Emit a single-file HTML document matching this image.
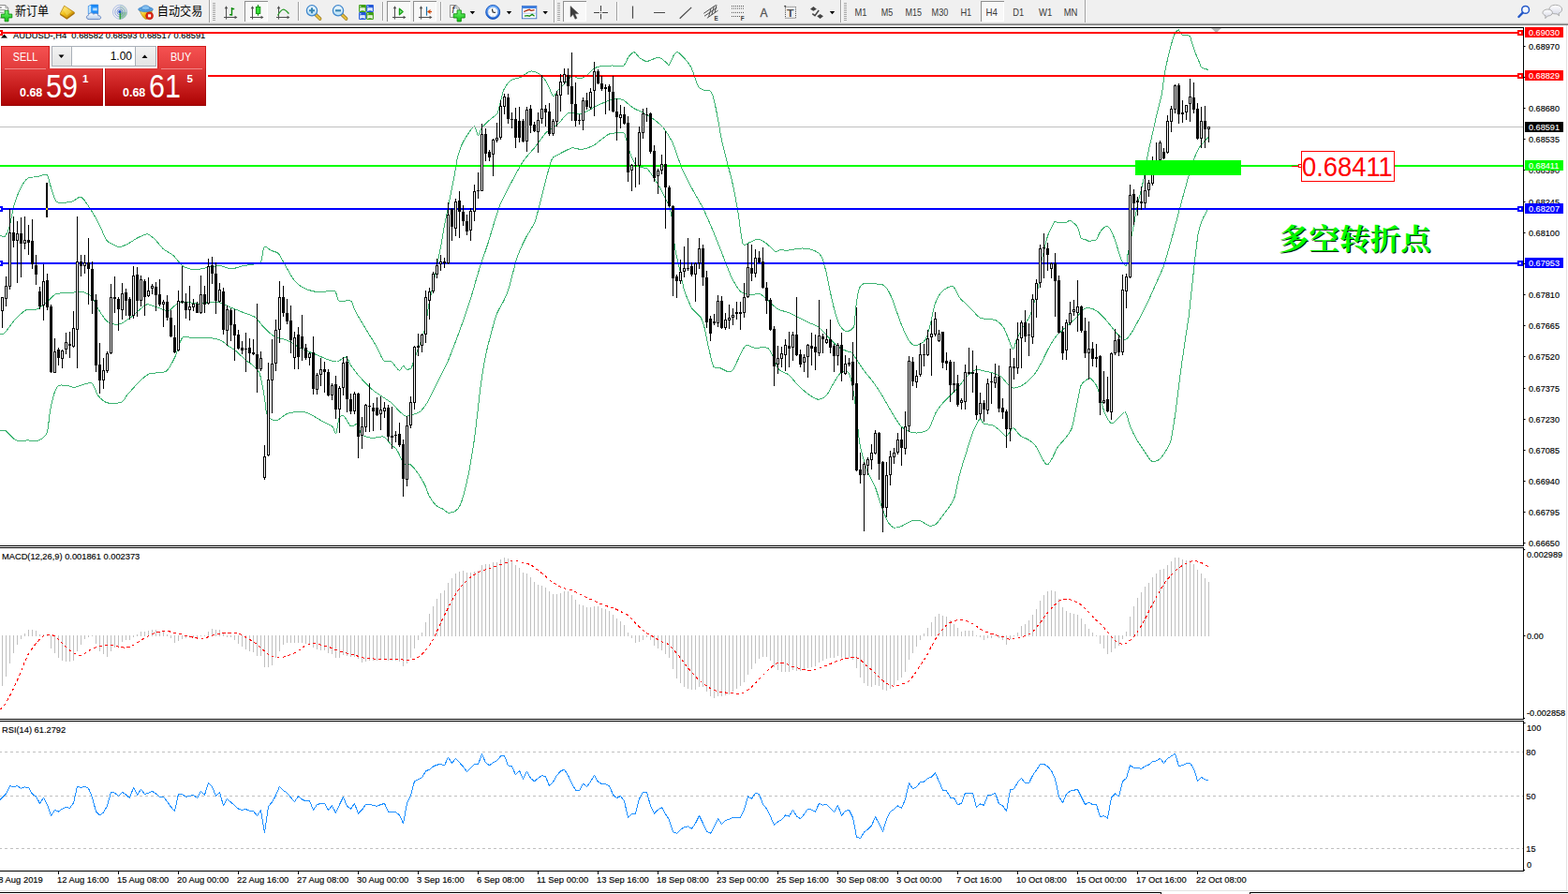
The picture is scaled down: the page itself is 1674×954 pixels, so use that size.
<!DOCTYPE html>
<html><head><meta charset="utf-8"><title>AUDUSD-,H4</title>
<style>
html,body{margin:0;padding:0;background:#fff}
body{width:1674px;height:954px;overflow:hidden;position:relative;font-family:"Liberation Sans",sans-serif}
svg text{font-family:"Liberation Sans",sans-serif}
#chart{position:absolute;left:0;top:0}
#tb{position:absolute;left:0;top:0;width:1674px;height:27px;background:#f0f0f0;overflow:hidden}
#tb .sh1{position:absolute;left:0;top:24px;width:100%;height:1px;background:#e2e2e2}
#tb .sh2{position:absolute;left:0;top:25px;width:100%;height:1px;background:#a9a9a9}
#tb .sh3{position:absolute;left:0;top:26px;width:100%;height:1px;background:#7b7b7b}
#tbi{position:absolute;left:0;top:0}
.tp{position:absolute;color:#fff;font-family:"Liberation Sans",sans-serif}
</style></head><body>
<svg id="chart" width="1674" height="954" viewBox="0 0 1674 954">
<g shape-rendering="crispEdges">
<rect x="0" y="29" width="1627" height="1" fill="#000"/>
<rect x="1626" y="29" width="1" height="554" fill="#000"/><rect x="1626" y="584" width="1" height="184" fill="#000"/><rect x="1626" y="769" width="1" height="161" fill="#000"/>
<rect x="0" y="582" width="1627" height="1" fill="#000"/>
<rect x="0" y="584" width="1627" height="1" fill="#000"/>
<rect x="0" y="767" width="1627" height="1" fill="#000"/>
<rect x="0" y="769" width="1627" height="1" fill="#000"/>
<rect x="0" y="929" width="1627" height="1" fill="#000"/>
<rect x="1672" y="27" width="1" height="924" fill="#e3e3e3"/>
<rect x="0" y="950" width="1674" height="1" fill="#e3e3e3"/>
<rect x="0" y="952" width="1240" height="1" fill="#000"/><rect x="1334" y="952" width="340" height="1" fill="#000"/>
<rect x="1239" y="952" width="1" height="2" fill="#000"/><rect x="1334" y="952" width="1" height="2" fill="#000"/>
</g>
<path d="M1293 30H1304L1298.5 35Z" fill="#b4b4b4"/>
<path d="M1 40.5L4.5 36.5L8 40.5Z" fill="#000"/>
<text transform="translate(14 41.2) scale(0.945 1)" font-size="9.9" fill="#000" stroke="#000" stroke-width=".15">AUDUSD-,H4&#160; 0.68582 0.68593 0.68517 0.68591</text>
<clipPath id="cm"><rect x="0" y="30" width="1626" height="552"/></clipPath>
<g clip-path="url(#cm)" fill="none" stroke="#3cb371" stroke-width="1" stroke-linejoin="round" shape-rendering="crispEdges">
<path d="M0 251.1C0.6 251.3 3.7 253.5 5 252.4C6.2 251.3 8.7 246.6 10 242.4C11.2 238.2 13.4 224 15 218.7C16.5 213.4 20.6 203.6 22.5 200C24.3 196.4 27.8 191.4 30 190C32.1 188.6 37.5 189.2 40 188.7C42.4 188.3 48.2 185.1 49.9 186.2C51.7 187.3 52.4 193.9 53.7 197.5C54.9 201.1 58.2 212.6 59.9 214.9C61.6 217.3 65.2 216.2 67.4 216.2C69.6 216.2 75.1 215.7 77.4 214.9C79.7 214.2 84.1 209.5 86.1 210C88.2 210.4 91.3 215.3 93.6 218.7C96 222.1 102.4 232.7 104.9 237.4C107.4 242.1 111.7 253.3 113.6 256.1C115.5 259 118.1 259.5 119.9 260.4C121.6 261.3 125.3 263.6 127.3 263.6C129.4 263.6 133.6 261.6 136.1 260.4C138.6 259.1 144.7 255 147.3 253.6C150 252.3 155.1 249.7 157.3 249.9C159.5 250.1 162.6 252.9 164.8 254.9C167 256.9 172.3 263.9 174.8 266.1C177.3 268.3 182.3 270.2 184.8 272.4C187.3 274.6 192.3 281.7 194.8 283.6C197.3 285.5 202.6 286.9 204.7 287.4C206.9 287.8 210 287.6 212.2 287.4C214.4 287.1 219.4 285.8 222.2 285.4C225 284.9 231.6 283.4 234.7 283.6C237.8 283.8 244.1 286.9 247.2 286.9C250.3 286.9 256.6 284.2 259.7 283.6C262.8 283 269.8 282.3 272.2 281.9C274.5 281.4 277.2 282.1 278.4 279.9C279.7 277.6 280.7 265.2 282.1 263.6C283.6 262.1 287.8 266.5 289.6 267.4C291.5 268.2 295.4 268.7 297.1 270.4C298.8 272.1 301.2 277.4 303.4 281.1C305.6 284.8 311.6 296.4 314.6 299.8C317.6 303.3 323.7 307.1 327.1 308.6C330.5 310.1 338.3 311.6 342.1 311.8C345.8 312 354.6 309.2 357.1 310.3C359.6 311.5 359.9 319.7 362 321.1C364.2 322.4 372.3 319.7 374.5 321.1C376.7 322.5 377.3 328.2 379.5 332.3C381.7 336.4 389.2 348.8 392 353.5C394.8 358.2 399.8 365.8 402 369.8C404.2 373.7 407.5 382.7 409.5 384.7C411.5 386.8 416.4 385.2 418 386C419.6 386.8 421.2 390 422.2 391.2C423.3 392.3 425.5 395.5 426.5 395.4C427.5 395.3 429.5 390.6 430.5 390.4C431.4 390.3 432.9 393.8 434 394.2C435 394.5 438.1 393.8 439 392.9C439.8 392.1 439.9 390.3 441 387.4C442 384.5 445.7 374.5 447.2 369.9C448.8 365.4 452 357.1 453.5 351.2C454.9 345.3 456.4 332.9 458.4 322.5C460.5 312.1 467.7 278.3 469.7 268C471.7 257.6 473.4 246.4 474.7 239.7C475.9 233.1 478.4 221 479.7 214.8C480.9 208.5 483.6 195.6 484.7 189.8C485.8 184 487.3 173.1 488.4 168.6C489.5 164.1 491.8 157 493.4 153.6C495 150.2 499.3 143.5 500.9 141.1C502.5 138.8 505.2 134.5 506.4 134.9C507.6 135.3 509.4 144.2 510.4 144.4C511.4 144.5 513 138.2 514.6 136.1C516.2 134 521.3 129.3 523.4 127.4C525.4 125.5 529.5 123.6 530.9 121.1C532.3 118.6 533.7 110.7 534.6 107.4C535.5 104.1 536.9 97.7 538.3 94.9C539.8 92.2 543.7 87 545.8 85.4C548 83.9 553.3 83.6 555.8 82.4C558.3 81.3 563.6 76.8 565.8 76.2C568 75.6 571.4 76.5 573.3 77.4C575.2 78.4 579.2 81.8 580.8 83.7C582.4 85.6 584.5 90 585.8 92.4C587 94.8 589.5 102.4 590.8 102.9C592 103.4 594.2 97.9 595.8 96.2C597.3 94.4 601.4 90.5 603.3 88.7C605.1 86.8 608.9 81.8 610.8 81.2C612.6 80.6 616.4 83.7 618.2 83.7C620.1 83.7 623.9 82.4 625.7 81.2C627.6 79.9 631.4 75 633.2 73.7C635.1 72.4 638.2 71.2 640.7 70.7C643.2 70.2 650.1 70 653.2 70C656.3 69.9 663.5 71 665.7 70C667.9 68.9 669.3 63 670.7 61.2C672.1 59.4 675.4 55.6 676.9 55.7C678.5 55.8 681.4 60.7 683.2 62C684.9 63.2 688.2 65.5 690.7 65.5C693.2 65.4 700.6 61.1 703.1 61.2C705.6 61.3 709.2 65.2 710.6 66.2C712 67.2 713.3 70.1 714.4 69.2C715.5 68.3 718.3 60.4 719.4 58.7C720.5 57 721.7 55.3 723.1 55.7C724.5 56.1 728.7 59.9 730.6 62C732.5 64.1 736.2 68.6 738.1 72.4C740 76.3 743.9 89.5 745.6 92.4C747.3 95.4 750.3 95.6 751.8 96.2C753.4 96.7 756.8 95.8 758.1 96.9C759.3 98 760.9 101.7 761.8 104.9C762.8 108.1 764.5 116.8 765.6 122.4C766.7 128 769.2 143.3 770.6 149.9C772 156.4 775.2 168.6 776.8 174.8C778.4 181.1 781.6 193.2 783 199.8C784.4 206.3 786.8 219.8 788 227.3C789.3 234.7 791.5 255.8 793 259.7C794.6 263.6 798.5 259 800.5 258.5C802.5 257.9 807.1 255.1 809.3 255.2C811.4 255.4 815.7 258.1 818 259.7C820.3 261.4 826.2 267.5 828 268.5C829.7 269.4 830.2 267.2 832 267C833.8 266.8 838.9 267.2 842 267C845.1 266.7 853.5 264.9 857 265C860.4 265 867 266.4 869.5 267.5C872 268.6 875.4 270.9 876.9 273.7C878.5 276.5 880.5 284.2 881.9 289.9C883.3 295.7 886.6 313.3 888.2 319.9C889.7 326.5 892.9 338.3 894.4 342.4C896 346.4 899.1 351 900.7 352.4C902.2 353.7 905.5 353.5 906.9 352.9C908.3 352.2 911 351.2 911.9 347.4C912.8 343.6 913.6 327.5 914.4 322.4C915.2 317.2 917 308.7 918.1 306.2C919.2 303.7 921.1 302.8 923.1 302.4C925.2 302 932 302.8 934.4 302.9C936.7 303.1 940.3 303 941.9 303.7C943.4 304.3 945.6 306.2 946.9 307.9C948.1 309.6 950.6 314.5 951.9 317.4C953.1 320.3 955.6 327.7 956.8 331.1C958.1 334.6 960.4 341.3 961.8 344.9C963.2 348.4 966.5 356.5 968.1 359.4C969.6 362.2 972.6 366.8 974.3 367.8C976 368.8 980.1 368 981.8 367.3C983.5 366.7 986.7 364.8 988.1 362.3C989.5 359.9 991.8 352 993 347.4C994.3 342.7 996.6 329.3 998 324.9C999.4 320.5 1002.6 314.7 1004.3 312.4C1006 310.2 1010.1 307.7 1011.8 306.9C1013.5 306.1 1016.5 304.9 1018 306.2C1019.6 307.5 1022.5 315.1 1024.3 317.4C1026 319.7 1029.9 323 1031.8 324.9C1033.6 326.8 1037.4 330.6 1039.2 332.4C1041.1 334.2 1044.5 338.4 1046.7 339.4C1048.9 340.4 1054.5 340 1056.7 340.4C1058.9 340.7 1062.3 341.2 1064.2 342.4C1066.1 343.6 1070 347.1 1071.7 349.9C1073.4 352.7 1076.7 362 1077.9 364.8C1079.2 367.7 1080.8 373.1 1081.7 372.8C1082.6 372.5 1084.2 365.2 1085.4 362.3C1086.7 359.5 1089.8 353.3 1091.7 349.9C1093.5 346.4 1098.2 340.8 1100.4 334.9C1102.6 329 1107.7 309.3 1109.2 302.4C1110.6 295.5 1111.1 284.1 1111.8 279.5C1112.5 274.9 1114.3 268.8 1115.1 265.3C1115.9 261.9 1117.5 254.7 1118.5 251.9C1119.5 249.1 1121.8 244.6 1122.7 242.7C1123.6 240.8 1125.2 237.2 1126 236.6C1126.8 235.9 1127.9 237.4 1129.4 237.5C1130.9 237.6 1136.6 237.8 1138.2 237.5C1139.8 237.2 1141.1 235.1 1142 235.1C1142.9 235.1 1144.2 236.3 1145.3 237.2C1146.3 238.1 1149.3 240.1 1150.4 242.2C1151.5 244.3 1153.1 252.3 1154.1 254C1155.1 255.7 1157.6 255.2 1158.7 255.7C1159.8 256.1 1162 257.5 1162.9 257.6C1163.9 257.7 1165.3 256.7 1166.3 256.5C1167.2 256.3 1169.6 256.6 1170.5 255.7C1171.4 254.8 1172.9 250.4 1173.8 248.9C1174.7 247.4 1177 244.4 1178 243.5C1179 242.6 1181.2 241 1182.2 241.4C1183.2 241.8 1185.4 244.5 1186.4 246.4C1187.5 248.3 1189.5 253.9 1190.6 256.9C1191.6 259.9 1193.9 267.5 1194.8 270.3C1195.7 273.1 1197.2 277.8 1198.1 279.5C1199 281.2 1201.6 284.4 1202.3 283.7C1203 283 1203.2 276.1 1203.6 273.7C1204 271.3 1204.6 269 1205.5 264.8C1206.3 260.6 1209.4 245.4 1210.4 239.8C1211.5 234.2 1213.3 224.2 1214.2 219.9C1215.1 215.5 1217 208.9 1217.9 204.9C1218.9 200.8 1220.7 192.4 1221.7 187.4C1222.6 182.4 1224.3 170.5 1225.4 164.9C1226.5 159.3 1229.2 148.1 1230.4 142.4C1231.7 136.8 1234.2 125.3 1235.4 120C1236.7 114.7 1239.4 105.3 1240.4 100C1241.4 94.7 1242.4 83.4 1243.5 77.8C1244.5 72.2 1247.2 60.2 1248.5 55.2C1249.7 50.1 1252.6 40.2 1253.5 37.5C1254.5 34.8 1255.4 34.2 1256 33.5C1256.6 32.8 1257.6 31.5 1258.3 31.9C1259 32.3 1260.6 36.2 1261.7 36.9C1262.8 37.6 1266.2 37 1267.3 37.3C1268.4 37.6 1269.9 38.1 1270.5 39.1C1271.1 40 1271.7 42.9 1272.4 45.1C1273.1 47.3 1275.2 53.9 1276.1 56.4C1277.1 58.9 1279.1 63.3 1279.9 65.2C1280.7 67.1 1281.7 70.5 1282.4 71.5C1283.2 72.5 1285.3 73 1286.2 73.4C1287.1 73.7 1289.3 74.2 1289.7 74.3"/>
<path d="M0 356C0.6 355.9 3.1 357 5 355.3C6.9 353.6 12.2 345.3 15 342.3C17.8 339.3 24.3 332.6 27.5 331C30.6 329.5 37.1 330.9 40 329.8C42.8 328.7 47.4 324.3 49.9 322.3C52.4 320.3 56.8 314.8 59.9 313.6C63 312.4 71.6 313.1 74.9 312.8C78.2 312.5 83.3 310.7 86.1 311.1C89 311.5 95 313.7 97.4 316.1C99.7 318.4 102.7 326.4 104.9 329.8C107.1 333.2 112 341.5 114.9 343.5C117.7 345.6 124.2 346.7 127.3 346C130.5 345.4 137 340.6 139.8 338.5C142.6 336.5 147.6 331.5 149.8 329.8C152 328.1 154.8 325 157.3 324.8C159.8 324.7 167 327.7 169.8 328.6C172.6 329.4 177.3 332.4 179.8 331.8C182.3 331.2 187.3 324.7 189.8 323.6C192.3 322.4 196.9 322.2 199.8 322.3C202.6 322.4 209.1 324.3 212.2 324.3C215.4 324.3 221.9 322.5 224.7 322.3C227.5 322.1 232.2 322.2 234.7 322.8C237.2 323.4 241.6 326 244.7 327.3C247.8 328.6 256.2 332.1 259.7 333.5C263.1 335 269.4 336.5 272.2 338.5C275 340.6 279.7 347.3 282.1 349.8C284.6 352.3 289 356.8 292.1 358.5C295.3 360.2 303.4 361.8 307.1 363.5C310.9 365.2 318.7 370.5 322.1 372.2C325.5 374 331.1 375.8 334.6 377.2C338 378.6 346.4 382.4 349.6 383.5C352.7 384.6 357.1 386.3 359.6 386C362 385.7 367.7 380.5 369.5 381C371.4 381.5 373 387.4 374.5 389.7C376.1 392.1 380.1 397.4 382 399.7C383.9 402 387.3 405.7 389.5 408C391.7 410.2 395.9 414.7 399.5 417.5C403.1 420.2 414.7 427.3 418 429.9C421.3 432.6 424 436.8 426 438.6C427.9 440.4 431.6 443.6 433.5 444.1C435.4 444.6 439.1 442.9 441 442.3C442.8 441.8 446.6 440.9 448.5 439.4C450.3 437.8 453.8 433.5 456 429.9C458.1 426.2 463.1 415.5 465.9 409.9C468.7 404.3 475.3 392.1 478.4 384.9C481.5 377.7 487.9 360.6 490.9 352.5C493.9 344.3 499.6 327.8 502.1 320C504.6 312.2 508.5 297.3 510.9 289.8C513.2 282.2 518.1 268.5 520.9 259.8C523.7 251 530.2 228 533.4 219.8C536.5 211.7 542.7 200.8 545.8 194.9C549 188.9 555.2 177.1 558.3 172.4C561.4 167.7 567.7 161.3 570.8 157.4C573.9 153.5 580.2 144.3 583.3 141.2C586.4 138.1 593 134.9 595.8 132.4C598.6 130 603.3 122.6 605.8 121.2C608.3 119.8 613.6 121.3 615.8 121.2C617.9 121.1 620.7 121.4 623.2 120.5C625.7 119.5 632.3 115.4 635.7 113.7C639.2 112 647.9 108 650.7 107C653.5 105.9 656.3 105.5 658.2 105.5C660.1 105.5 663.5 105.8 665.7 107C667.9 108.2 673.2 113.3 675.7 115C678.2 116.6 682.9 118.4 685.7 120C688.5 121.5 695.3 125.4 698.1 127.5C701 129.5 705.6 133.1 708.1 136.2C710.6 139.3 715.6 147 718.1 152.4C720.6 157.9 725.6 174 728.1 179.9C730.6 185.8 735.3 194.6 738.1 199.9C740.9 205.2 747.8 216.7 750.6 222.3C753.4 228 758.1 238.9 760.6 244.8C763.1 250.7 768.1 263.5 770.6 269.8C773.1 276 778 289.6 780.5 294.7C783 299.9 788 308.5 790.5 311C793 313.5 798 314.4 800.5 314.7C803 315 808.3 313 810.5 313.5C812.7 313.9 816.1 316.9 818 318.5C819.9 320 823.7 324.4 825.5 326C827.2 327.5 829.9 329.7 832 330.6C834.1 331.6 839.5 332.6 842 333.6C844.5 334.6 849.5 337.4 852 338.6C854.5 339.9 859.2 342.3 862 343.6C864.8 345 871.6 347.3 874.4 349.4C877.3 351.4 881.9 357.3 884.4 359.9C886.9 362.4 891.9 368 894.4 369.8C896.9 371.7 902.5 374.1 904.4 374.8C906.3 375.6 908.2 375 909.4 376.1C910.7 377.2 912.8 381.2 914.4 383.6C916 385.9 919.7 391.8 921.9 394.8C924.1 397.8 929.4 403.9 931.9 407.3C934.4 410.7 939.4 418.2 941.9 422.3C944.4 426.3 949.4 435.7 951.9 439.8C954.3 443.8 959.3 452.1 961.8 454.7C964.3 457.4 969.3 460.1 971.8 461C974.3 461.8 979.3 462.2 981.8 461.7C984.3 461.3 989.6 460 991.8 457.2C994 454.5 997.4 443.2 999.3 439.8C1001.2 436.3 1004.9 431.9 1006.8 429.8C1008.7 427.6 1012.4 424.1 1014.3 422.3C1016.1 420.4 1019.6 417.3 1021.8 414.8C1023.9 412.3 1029.3 404.8 1031.8 402.3C1034.2 399.8 1039.2 395.6 1041.7 394.8C1044.2 394 1049.2 395.6 1051.7 396.1C1054.2 396.5 1059.5 397.8 1061.7 398.6C1063.9 399.3 1067.3 400.7 1069.2 402.3C1071.1 403.9 1075.1 409.6 1076.7 411C1078.3 412.5 1080.1 413.9 1081.7 414C1083.2 414.2 1087.3 413.1 1089.2 412.3C1091.1 411.4 1094.8 408.9 1096.7 407.3C1098.5 405.7 1102.3 402.3 1104.2 399.8C1106 397.3 1109.8 390.7 1111.7 387.3C1113.5 383.9 1117.3 375.8 1119.1 372.3C1121 368.9 1124.8 362.3 1126.6 359.9C1128.5 357.4 1131.9 354.4 1134.1 352.4C1136.3 350.3 1141.9 345.6 1144.1 343.6C1146.3 341.6 1150 337.8 1151.6 336.1C1153.2 334.5 1155.2 331.3 1156.6 330.4C1158 329.5 1161 328.4 1162.8 328.6C1164.7 328.9 1169.2 330.7 1171.6 332.4C1173.9 334.1 1179.1 339.6 1181.6 342.4C1184.1 345.2 1189.2 352.4 1191.6 354.9C1193.9 357.4 1198.4 362 1200.3 362.3C1202.2 362.7 1204.5 360.2 1206.5 357.4C1208.6 354.5 1214 344.6 1216.5 339.9C1219 335.2 1224 325.2 1226.5 319.9C1229 314.6 1234.4 302.1 1236.5 297.4C1238.5 292.7 1240.9 288.5 1242.9 282.3C1245 276 1250.4 256.4 1252.9 247.3C1255.4 238.3 1260.4 218.9 1262.9 209.9C1265.4 200.8 1270.7 181.5 1272.9 174.9C1275.1 168.4 1278.2 161 1280.4 157.4C1282.5 153.8 1289.1 147.6 1290.3 146.2"/>
<path d="M0 459.4C0.8 459.5 4.7 459.1 6.2 459.9C7.8 460.7 10.9 464.8 12.5 466.1C14 467.5 16.5 469.9 18.7 470.4C20.9 470.9 27.3 469.9 30 469.9C32.6 469.9 37.5 471.3 40 470.4C42.4 469.5 48.2 466.5 49.9 462.4C51.7 458.3 52.6 443 53.7 437.4C54.8 431.8 57.4 420.7 58.7 417.5C59.9 414.2 62 411.9 63.7 411.2C65.4 410.5 70.4 411.5 72.4 411.7C74.4 412 76.8 413.6 79.9 413.2C83 412.8 94.3 407.6 97.4 408.7C100.5 409.9 102.7 419.8 104.9 422.4C107.1 425.1 111.7 429.1 114.9 429.9C118 430.8 127.2 430.3 129.8 429.2C132.5 428.1 133.6 424.1 136.1 421.2C138.6 418.3 146.8 409 149.8 406.2C152.8 403.4 156.4 400 159.8 398.7C163.2 397.5 173.8 398.6 177.3 396.2C180.7 393.9 185.1 384.5 187.3 380C189.5 375.5 192.3 362.6 194.8 360.3C197.3 357.9 204.1 361 207.2 361C210.4 361 216.3 360 219.7 360.3C223.2 360.5 231.6 361.6 234.7 362.8C237.8 363.9 242.5 368.3 244.7 369.8C246.9 371.2 250 372.9 252.2 374.7C254.4 376.6 260 382.4 262.2 384.2C264.4 386.1 267.8 387.9 269.7 389.7C271.5 391.5 275.6 394.6 277.2 398.7C278.7 402.8 281.2 417.1 282.1 422.4C283.1 427.8 283.7 438.1 284.6 441.2C285.6 444.3 288.1 446.6 289.6 447.4C291.2 448.3 294.9 448.7 297.1 447.9C299.3 447.1 304 442.3 307.1 441.2C310.2 440.1 319 439 322.1 439.2C325.2 439.3 329.3 441.1 332.1 442.4C334.9 443.8 341.8 448.4 344.6 449.9C347.4 451.5 352.8 453.3 354.6 454.9C356.3 456.5 357.9 463.5 358.8 462.4C359.7 461.3 361 448.5 362 446.2C363.1 443.8 365.5 442.6 367 443.7C368.6 444.8 372.7 453.8 374.5 454.9C376.4 456 380.6 451.3 382 452.4C383.4 453.5 383.9 461.8 385.8 463.6C387.6 465.5 394 467.1 397 467.4C400 467.7 406.9 465.2 409.5 466.1C412.1 467.1 416.2 473.2 418 474.9C419.7 476.6 422.2 477.9 423.5 479.8C424.8 481.7 427.5 487.9 428.5 489.8C429.4 491.7 429.7 494 431 494.8C432.2 495.6 436.6 494.8 438.5 496C440.3 497.3 444.1 502.1 446 504.8C447.8 507.4 451.9 514.1 453.5 517.3C455 520.4 456.9 526.9 458.4 529.7C460 532.5 464.1 538 465.9 539.7C467.8 541.4 471.9 542.5 473.4 543.5C475 544.4 476.9 547 478.4 547.2C480 547.5 484.4 546.4 485.9 545.5C487.5 544.5 489.7 542.3 490.9 539.7C492.2 537.1 494.7 529.4 495.9 524.7C497.1 520.1 499.6 508.8 500.9 502.3C502.1 495.7 504.8 479.8 505.9 472.3C507 464.8 508.7 450.1 509.6 442.3C510.6 434.5 512.3 417.7 513.4 409.9C514.5 402.1 516.8 387.4 518.4 379.9C519.9 372.4 524.3 355.7 525.9 350C527.4 344.2 529.3 337.5 530.9 333.7C532.4 330 536.8 323.3 538.3 320C539.9 316.7 541.6 312.9 543.3 307.2C545.1 301.6 549.9 281.3 552.1 274.8C554.3 268.2 558.5 259.5 560.8 254.8C563.2 250.1 568.8 242.3 570.8 237.3C572.8 232.3 575.5 220.8 577 214.8C578.6 208.9 581.9 195.2 583.3 189.9C584.7 184.6 587.3 175.1 588.3 172.4C589.2 169.7 589.2 169.2 590.8 167.9C592.3 166.7 598.3 163.7 600.8 162.4C603.3 161.2 608.3 158.3 610.8 157.9C613.3 157.5 617.9 159.7 620.7 159.4C623.6 159.1 630.7 156.6 633.2 155.4C635.7 154.2 638.5 151.5 640.7 149.9C642.9 148.4 647.6 144 650.7 142.9C653.8 141.9 663.5 141.1 665.7 141.7C667.9 142.2 667.2 144.5 668.2 147.4C669.1 150.3 671.9 161.5 673.2 164.9C674.4 168.3 676.9 173.2 678.2 174.9C679.4 176.6 681.6 178 683.2 178.6C684.7 179.3 688.8 178.5 690.7 179.9C692.5 181.3 696.3 187.1 698.1 189.9C700 192.7 703.8 198.9 705.6 202.4C707.5 205.8 711.7 213.9 713.1 217.3C714.5 220.8 715.9 223.9 716.9 229.8C717.8 235.8 719.5 257.6 720.6 264.8C721.7 272 724.4 281.6 725.6 287.3C726.9 292.9 729 304.6 730.6 309.7C732.2 314.8 736.8 325.3 738.1 328C739.3 330.6 739.3 329.9 740.6 331.2C741.8 332.6 746.7 336.5 748.1 338.7C749.5 340.9 750.7 344.5 751.8 348.7C752.9 352.9 755.6 367.1 756.8 372.4C758.1 377.7 760.4 388.7 761.8 391.2C763.2 393.7 766 391.7 768.1 392.4C770.1 393.1 776.2 396.7 778 396.9C779.9 397.1 780.9 397.1 783 393.7C785.2 390.2 792.7 372.2 795.5 369.4C798.3 366.6 802.5 371 805.5 371.2C808.5 371.4 816.9 370.2 819.2 371.2C821.6 372.1 822.8 376 824.2 378.7C825.6 381.3 829.3 390.2 830.5 392.4C831.7 394.6 832.5 395.2 834 396.2C835.4 397.1 839.7 398.1 842 399.9C844.2 401.8 849.5 408.7 852 411.2C854.5 413.7 859.3 418 862 419.9C864.6 421.8 870.7 425.8 873.2 426.2C875.7 426.5 879.9 424.4 881.9 422.4C884 420.4 887.7 412.7 889.4 409.9C891.1 407.1 894.1 401.7 895.7 399.9C897.2 398.2 900.5 396.2 901.9 396.2C903.3 396.2 905.7 396.7 906.9 399.9C908.2 403.2 910.8 415.5 911.9 422.4C913 429.3 914.9 448.3 915.6 454.9C916.4 461.4 917.4 470.5 918.1 474.8C918.9 479.2 920.8 486.1 921.9 489.8C923 493.6 925.3 501.1 926.9 504.8C928.4 508.6 932.5 515.1 934.4 519.8C936.2 524.5 940.1 537.6 941.9 542.3C943.6 546.9 946.5 554.7 948.1 557.2C949.7 559.8 952.6 562.4 954.3 563C956.1 563.5 960.1 562.3 961.8 561.7C963.6 561.2 966.4 559.3 968.1 558.5C969.8 557.7 973.7 555.6 975.6 555.2C977.4 554.9 981 555.3 983.1 556C985.1 556.7 989.8 560.6 991.8 561C993.8 561.4 997.4 560.6 999.3 559.2C1001.2 557.8 1004.9 552.2 1006.8 549.8C1008.7 547.3 1012.7 542.3 1014.3 539.8C1015.8 537.3 1018 533.8 1019.3 529.8C1020.5 525.7 1022.7 513.2 1024.3 507.3C1025.8 501.4 1029.9 488.3 1031.8 482.3C1033.6 476.4 1037.4 464.2 1039.2 459.9C1041.1 455.5 1044.8 448.3 1046.2 447.4C1047.6 446.4 1048.9 451.6 1050.5 452.4C1052.1 453.2 1057.2 452.8 1059.2 453.6C1061.2 454.4 1064.8 457.1 1066.7 458.6C1068.6 460.1 1072.3 465.6 1074.2 465.4C1076.1 465.1 1079.8 456.9 1081.7 456.9C1083.6 456.8 1087 463.2 1089.2 464.9C1091.4 466.5 1097 468.3 1099.2 469.9C1101.4 471.4 1104.9 474.8 1106.7 477.3C1108.4 479.8 1111.5 487.5 1112.9 489.8C1114.3 492.2 1116.6 496.1 1117.9 496.1C1119.1 496.1 1121.5 492.2 1122.9 489.8C1124.3 487.5 1127.4 480 1129.1 477.3C1130.8 474.7 1134.7 471.1 1136.6 468.6C1138.5 466.1 1142.5 461.6 1144.1 457.4C1145.7 453.2 1147.9 440.7 1149.1 434.9C1150.4 429.1 1152.8 414.8 1154.1 411.2C1155.3 407.6 1157.8 407.1 1159.1 406.2C1160.3 405.2 1162.5 402.7 1164.1 403.7C1165.6 404.6 1169.7 409.1 1171.6 413.7C1173.4 418.2 1177.2 435.1 1179.1 439.9C1180.9 444.7 1184.7 451.1 1186.6 451.9C1188.4 452.7 1192.2 447.6 1194 446.1C1195.9 444.6 1200 438.8 1201.5 439.9C1203.1 441 1205 451.1 1206.5 454.9C1208.1 458.6 1212.1 466.6 1214 469.9C1215.9 473.1 1219.6 478.3 1221.5 481.1C1223.4 483.8 1227.1 490.6 1229 491.8C1230.9 493.1 1234.6 492.3 1236.5 491.1C1238.4 489.9 1242.3 485 1244 482.3C1245.7 479.7 1248.6 475.1 1250 469.9C1251.4 464.6 1253.7 448.7 1255 440C1256.3 431.3 1258.8 409.4 1260 400C1261.2 390.6 1263.9 372.8 1265 365C1266.1 357.2 1268.3 344.3 1269.1 338C1269.9 331.7 1270.8 322 1271.6 314.7C1272.4 307.4 1274.5 287.9 1275.4 279.8C1276.3 271.7 1278.2 255.3 1279.1 249.8C1280 244.3 1281.5 239.6 1282.9 236.1C1284.3 232.6 1289.4 223.4 1290.3 221.6"/>
</g>
<g shape-rendering="crispEdges">
<rect x="0" y="135" width="1626" height="1" fill="#c0c0c0"/>
<rect x="0" y="34" width="1626" height="2" fill="#ff0000"/>
<rect x="0" y="80" width="1626" height="2" fill="#ff0000"/>
<rect x="0" y="176" width="1626" height="2" fill="#00ff00"/>
<rect x="0" y="222" width="1626" height="2" fill="#0000ff"/>
<rect x="0" y="280" width="1626" height="2" fill="#0000ff"/>
<rect x="1620" y="32" width="6" height="6" fill="#ff0000"/><rect x="1622" y="34" width="2" height="2" fill="#fff"/>
<rect x="-2" y="32" width="5" height="6" fill="#ff0000"/><rect x="-1" y="34" width="2" height="2" fill="#fff"/>
<rect x="1620" y="78" width="6" height="6" fill="#ff0000"/><rect x="1622" y="80" width="2" height="2" fill="#fff"/>
<rect x="-2" y="78" width="5" height="6" fill="#ff0000"/><rect x="-1" y="80" width="2" height="2" fill="#fff"/>
<rect x="1620" y="220" width="6" height="6" fill="#0000ff"/><rect x="1622" y="222" width="2" height="2" fill="#fff"/>
<rect x="-2" y="220" width="5" height="6" fill="#0000ff"/><rect x="-1" y="222" width="2" height="2" fill="#fff"/>
<rect x="1620" y="278" width="6" height="6" fill="#0000ff"/><rect x="1622" y="280" width="2" height="2" fill="#fff"/>
<rect x="-2" y="278" width="5" height="6" fill="#0000ff"/><rect x="-1" y="280" width="2" height="2" fill="#fff"/>
</g>
<g shape-rendering="crispEdges">
<path d="M2.5 317V350M6.5 295V327M10.5 223V309M14.5 231V264M18.5 236V302M22.5 232V296M26.5 231V266M30.5 240V272M34.5 234V287M38.5 272V304M42.5 306V330M46.5 282V342M50.5 292V331M54.5 325V398M58.5 361V398M62.5 371V390M66.5 373V393M70.5 355V378M74.5 354V382M78.5 332V371M82.5 231V393M86.5 272V295M90.5 272V292M94.5 254V325M98.5 279V335M102.5 314V397M106.5 366V420M110.5 382V415M114.5 375V398M118.5 303V378M122.5 295V334M126.5 317V353M130.5 302V341M134.5 308V337M138.5 317V341M142.5 284V340M146.5 285V338M150.5 294V327M154.5 298V337M158.5 296V317M162.5 303V314M166.5 301V332M170.5 298V327M174.5 320V349M178.5 315V342M182.5 331V360M186.5 347V377M190.5 310V375M194.5 284V324M198.5 313V340M202.5 305V342M206.5 319V332M210.5 322V334M214.5 294V335M218.5 305V334M222.5 276V325M226.5 274V303M230.5 280V335M234.5 302V323M238.5 307V357M242.5 326V369M246.5 329V364M250.5 330V385M254.5 352V373M258.5 364V378M262.5 355V397M266.5 361V387M270.5 362V379M274.5 324V419M278.5 375V396M282.5 475V512M286.5 387V487M290.5 362V441M294.5 341V396M298.5 300V366M302.5 305V338M306.5 319V346M310.5 326V377M314.5 354V394M318.5 349V394M322.5 336V385M326.5 367V384M330.5 376V390M334.5 359V421M338.5 398V421M342.5 382V412M346.5 386V419M350.5 394V423M354.5 409V427M358.5 401V447M362.5 412V462M366.5 381V422M370.5 380V440M374.5 420V442M378.5 418V442M382.5 419V489M386.5 445V479M390.5 431V461M394.5 409V461M398.5 430V460M402.5 424V444M406.5 423V459M410.5 429V446M414.5 432V471M418.5 434V479M422.5 460V472M426.5 451V477M430.5 469V530M434.5 444V519M438.5 423V457M442.5 369V437M446.5 356V380M450.5 356V376M454.5 310V366M458.5 307V341M462.5 290V313M466.5 276V297M470.5 272V289M474.5 275V286M478.5 216V282M482.5 222V257M486.5 212V252M490.5 204V254M494.5 219V241M498.5 229V251M502.5 222V257M506.5 197V236M510.5 184V212M514.5 132V204M518.5 137V172M522.5 160V172M526.5 148V188M530.5 131V152M534.5 107V149M538.5 100V122M542.5 100V132M546.5 120V137M550.5 115V158M554.5 114V152M558.5 127V152M562.5 114V162M566.5 112V142M570.5 130V141M574.5 120V163M578.5 80V132M582.5 112V135M586.5 110V145M590.5 127V145M594.5 97V135M598.5 79V119M602.5 73V90M606.5 73V101M610.5 56V129M614.5 88V135M618.5 122V133M622.5 104V139M626.5 99V117M630.5 94V117M634.5 66V124M638.5 74V90M642.5 81V97M646.5 90V122M650.5 90V118M654.5 81V120M658.5 105V150M662.5 112V137M666.5 114V133M670.5 124V194M674.5 175V204M678.5 168V200M682.5 135V197M686.5 116V148M690.5 115V130M694.5 120V164M698.5 155V194M702.5 180V207M706.5 165V186M710.5 140V244M714.5 198V221M718.5 219V316M722.5 293V318M726.5 277V303M730.5 263V296M734.5 254V289M738.5 280V295M742.5 280V322M746.5 254V287M750.5 261V305M754.5 289V350M758.5 337V364M762.5 335V347M766.5 315V349M770.5 316V351M774.5 334V352M778.5 325V351M782.5 329V347M786.5 322V341M790.5 322V352M794.5 302V339M798.5 260V318M802.5 261V300M806.5 266V296M810.5 268V281M814.5 264V308M818.5 301V335M822.5 318V353M826.5 348V412M830.5 369V399M834.5 370V392M838.5 362V396M842.5 354V392M846.5 354V385M850.5 317V380M854.5 373V392M858.5 378V397M862.5 367V403M866.5 355V390M870.5 357V395M874.5 320V380M878.5 356V377M882.5 351V367M886.5 341V377M890.5 367V397M894.5 366V390M898.5 355V407M902.5 379V400M906.5 382V391M910.5 365V427M914.5 328V503M918.5 483V516M922.5 493V567M926.5 488V507M930.5 474V501M934.5 459V485M938.5 461V512M942.5 492V568M946.5 493V552M950.5 481V518M954.5 478V495M958.5 462V485M962.5 456V497M966.5 439V485M970.5 380V461M974.5 381V412M978.5 395V414M982.5 366V402M986.5 367V391M990.5 352V380M994.5 342V401M998.5 333V359M1002.5 352V365M1006.5 354V393M1010.5 376V395M1014.5 384V429M1018.5 386V419M1022.5 400V434M1026.5 425V437M1030.5 389V437M1034.5 371V400M1038.5 374V419M1042.5 390V448M1046.5 419V447M1050.5 427V450M1054.5 404V442M1058.5 398V431M1062.5 388V414M1066.5 390V440M1070.5 425V447M1074.5 437V478M1078.5 372V471M1082.5 382V405M1086.5 344V399M1090.5 342V393M1094.5 331V365M1098.5 345V380M1102.5 314V367M1106.5 298V339M1110.5 261V307M1114.5 249V297M1118.5 259V289M1122.5 280V297M1126.5 270V338M1130.5 294V356M1134.5 348V384M1138.5 341V384M1142.5 322V347M1146.5 320V337M1150.5 299V354M1154.5 326V355M1158.5 339V382M1162.5 343V405M1166.5 365V391M1170.5 367V392M1174.5 379V443M1178.5 396V431M1182.5 402V440M1186.5 376V448M1190.5 351V379M1194.5 357V380M1198.5 293V379M1202.5 292V329M1206.5 197V297M1210.5 202V240M1214.5 210V230M1218.5 199V224M1222.5 186V222M1226.5 192V210M1230.5 167V198M1234.5 152V187M1238.5 150V172M1242.5 158V170M1246.5 123V164M1250.5 113V141M1254.5 90V121M1258.5 89V132M1262.5 107V131M1266.5 112V128M1270.5 84V130M1274.5 88V121M1278.5 110V149M1282.5 114V158M1286.5 113V158M1290.5 135V152" stroke="#000" stroke-width="1" fill="none"/>
<path d="M1.5 317.5h2v14h-2zM5.5 305.5h2v13h-2zM9.5 248.5h2v57h-2zM17.5 249.5h2v7h-2zM25.5 256.5h2v3h-2zM45.5 300.5h2v25h-2zM57.5 375.5h2v22h-2zM65.5 374.5h2v8h-2zM69.5 365.5h2v7h-2zM77.5 350.5h2v19h-2zM81.5 279.5h2v72h-2zM89.5 280.5h2v3h-2zM109.5 395.5h2v10h-2zM113.5 377.5h2v18h-2zM117.5 317.5h2v59h-2zM129.5 313.5h2v17h-2zM141.5 294.5h2v42h-2zM149.5 298.5h2v22h-2zM157.5 310.5h2v5h-2zM161.5 305.5h2v2h-2zM173.5 322.5h2v2h-2zM189.5 321.5h2v52h-2zM201.5 327.5h2v3h-2zM205.5 324.5h2v3h-2zM213.5 314.5h2v19h-2zM221.5 284.5h2v39h-2zM233.5 309.5h2v12h-2zM241.5 330.5h2v22h-2zM277.5 382.5h2v11h-2zM281.5 487.5h2v22h-2zM285.5 405.5h2v80h-2zM289.5 388.5h2v17h-2zM293.5 352.5h2v35h-2zM297.5 317.5h2v34h-2zM313.5 360.5h2v21h-2zM329.5 377.5h2v4h-2zM337.5 400.5h2v15h-2zM341.5 394.5h2v5h-2zM353.5 411.5h2v10h-2zM361.5 414.5h2v22h-2zM365.5 387.5h2v26h-2zM377.5 420.5h2v18h-2zM385.5 455.5h2v9h-2zM389.5 432.5h2v23h-2zM405.5 437.5h2v4h-2zM409.5 435.5h2v3h-2zM433.5 454.5h2v57h-2zM437.5 429.5h2v24h-2zM441.5 370.5h2v59h-2zM445.5 369.5h2v1h-2zM449.5 357.5h2v11h-2zM453.5 317.5h2v39h-2zM457.5 311.5h2v9h-2zM461.5 292.5h2v18h-2zM465.5 283.5h2v9h-2zM469.5 279.5h2v2h-2zM477.5 229.5h2v51h-2zM485.5 215.5h2v28h-2zM501.5 225.5h2v20h-2zM505.5 204.5h2v21h-2zM513.5 143.5h2v60h-2zM525.5 149.5h2v15h-2zM529.5 147.5h2v2h-2zM533.5 113.5h2v33h-2zM537.5 103.5h2v10h-2zM561.5 117.5h2v33h-2zM573.5 128.5h2v12h-2zM577.5 116.5h2v10h-2zM589.5 129.5h2v13h-2zM593.5 101.5h2v28h-2zM597.5 87.5h2v14h-2zM601.5 79.5h2v8h-2zM621.5 107.5h2v21h-2zM629.5 98.5h2v16h-2zM633.5 76.5h2v20h-2zM661.5 122.5h2v3h-2zM673.5 176.5h2v5h-2zM681.5 141.5h2v35h-2zM685.5 121.5h2v20h-2zM701.5 182.5h2v5h-2zM705.5 175.5h2v6h-2zM725.5 290.5h2v9h-2zM729.5 286.5h2v3h-2zM741.5 281.5h2v11h-2zM745.5 265.5h2v15h-2zM765.5 321.5h2v23h-2zM773.5 341.5h2v8h-2zM777.5 339.5h2v2h-2zM781.5 336.5h2v2h-2zM785.5 333.5h2v1h-2zM793.5 317.5h2v16h-2zM797.5 285.5h2v31h-2zM805.5 275.5h2v16h-2zM829.5 382.5h2v6h-2zM833.5 377.5h2v5h-2zM837.5 368.5h2v10h-2zM845.5 357.5h2v13h-2zM857.5 381.5h2v5h-2zM861.5 368.5h2v12h-2zM873.5 358.5h2v18h-2zM881.5 362.5h2v3h-2zM893.5 368.5h2v11h-2zM901.5 388.5h2v10h-2zM905.5 387.5h2v1h-2zM921.5 495.5h2v11h-2zM925.5 490.5h2v6h-2zM929.5 483.5h2v7h-2zM933.5 462.5h2v21h-2zM945.5 507.5h2v34h-2zM949.5 487.5h2v19h-2zM953.5 483.5h2v4h-2zM957.5 469.5h2v13h-2zM965.5 455.5h2v23h-2zM969.5 385.5h2v69h-2zM977.5 401.5h2v6h-2zM981.5 378.5h2v21h-2zM989.5 361.5h2v17h-2zM993.5 356.5h2v3h-2zM997.5 340.5h2v16h-2zM1001.5 356.5h2v7h-2zM1017.5 409.5h2v1h-2zM1025.5 427.5h2v2h-2zM1029.5 397.5h2v31h-2zM1045.5 430.5h2v11h-2zM1053.5 409.5h2v28h-2zM1061.5 402.5h2v6h-2zM1077.5 391.5h2v66h-2zM1085.5 362.5h2v30h-2zM1089.5 344.5h2v16h-2zM1101.5 319.5h2v40h-2zM1105.5 302.5h2v17h-2zM1109.5 265.5h2v36h-2zM1121.5 281.5h2v5h-2zM1137.5 344.5h2v29h-2zM1141.5 334.5h2v10h-2zM1145.5 330.5h2v2h-2zM1149.5 327.5h2v6h-2zM1161.5 372.5h2v4h-2zM1169.5 381.5h2v1h-2zM1177.5 427.5h2v2h-2zM1185.5 377.5h2v62h-2zM1189.5 363.5h2v13h-2zM1197.5 309.5h2v66h-2zM1201.5 295.5h2v15h-2zM1205.5 208.5h2v87h-2zM1221.5 203.5h2v13h-2zM1225.5 195.5h2v7h-2zM1229.5 186.5h2v9h-2zM1233.5 172.5h2v13h-2zM1237.5 152.5h2v18h-2zM1245.5 129.5h2v33h-2zM1249.5 116.5h2v13h-2zM1253.5 91.5h2v25h-2zM1265.5 112.5h2v7h-2zM1269.5 103.5h2v7h-2zM1281.5 129.5h2v18h-2zM1289.5 135.5h2v2h-2z" stroke="#000" stroke-width="1" fill="#fff"/>
<path d="M13 248h3v9h-3zM21 249h3v11h-3zM29 256h3v3h-3zM33 257h3v25h-3zM37 283h3v10h-3zM41 311h3v16h-3zM49 299h3v29h-3zM53 327h3v70h-3zM61 373h3v9h-3zM73 367h3v2h-3zM85 279h3v5h-3zM93 280h3v7h-3zM97 287h3v34h-3zM101 320h3v70h-3zM105 389h3v17h-3zM121 317h3v2h-3zM125 319h3v11h-3zM133 312h3v9h-3zM137 319h3v18h-3zM145 293h3v28h-3zM153 300h3v17h-3zM165 306h3v9h-3zM169 314h3v11h-3zM177 322h3v17h-3zM181 339h3v20h-3zM185 360h3v16h-3zM193 321h3v2h-3zM197 322h3v9h-3zM209 324h3v10h-3zM217 314h3v11h-3zM225 283h3v9h-3zM229 292h3v29h-3zM237 311h3v41h-3zM245 331h3v16h-3zM249 346h3v12h-3zM253 357h3v15h-3zM257 371h3v3h-3zM261 372h3v1h-3zM265 371h3v6h-3zM269 376h3v2h-3zM273 378h3v16h-3zM301 317h3v17h-3zM305 334h3v9h-3zM309 342h3v21h-3zM317 357h3v24h-3zM321 359h3v13h-3zM325 371h3v11h-3zM333 376h3v39h-3zM345 394h3v3h-3zM349 397h3v25h-3zM357 410h3v27h-3zM369 386h3v40h-3zM373 426h3v13h-3zM381 420h3v46h-3zM393 433h3v1h-3zM397 435h3v4h-3zM401 435h3v8h-3zM413 435h3v31h-3zM417 465h3v2h-3zM421 464h3v1h-3zM425 463h3v12h-3zM429 474h3v37h-3zM473 279h3v2h-3zM481 223h3v19h-3zM489 214h3v12h-3zM493 226h3v10h-3zM497 236h3v11h-3zM509 203h3v1h-3zM517 143h3v21h-3zM521 162h3v6h-3zM541 104h3v23h-3zM545 127h3v1h-3zM549 127h3v20h-3zM553 129h3v18h-3zM557 129h3v22h-3zM565 116h3v18h-3zM569 133h3v7h-3zM581 116h3v4h-3zM585 119h3v24h-3zM605 80h3v12h-3zM609 92h3v19h-3zM613 111h3v18h-3zM617 128h3v1h-3zM625 107h3v7h-3zM637 76h3v13h-3zM641 89h3v6h-3zM645 93h3v2h-3zM649 92h3v6h-3zM653 98h3v21h-3zM657 119h3v6h-3zM665 122h3v10h-3zM669 131h3v53h-3zM677 176h3v1h-3zM689 122h3v1h-3zM693 121h3v41h-3zM697 161h3v29h-3zM709 175h3v25h-3zM713 200h3v20h-3zM717 220h3v77h-3zM721 295h3v5h-3zM733 286h3v1h-3zM737 284h3v9h-3zM749 265h3v31h-3zM753 296h3v48h-3zM757 340h3v16h-3zM761 343h3v2h-3zM769 321h3v29h-3zM789 333h3v2h-3zM801 286h3v6h-3zM809 275h3v5h-3zM813 279h3v28h-3zM817 307h3v14h-3zM821 320h3v32h-3zM825 351h3v40h-3zM841 369h3v3h-3zM849 357h3v22h-3zM853 378h3v11h-3zM865 369h3v3h-3zM869 370h3v6h-3zM877 359h3v3h-3zM885 362h3v9h-3zM889 369h3v11h-3zM897 368h3v30h-3zM909 386h3v25h-3zM913 409h3v93h-3zM917 501h3v6h-3zM937 462h3v33h-3zM941 493h3v49h-3zM961 469h3v9h-3zM973 386h3v21h-3zM985 378h3v1h-3zM1005 354h3v33h-3zM1009 385h3v3h-3zM1013 386h3v25h-3zM1021 409h3v23h-3zM1033 397h3v2h-3zM1037 397h3v2h-3zM1041 398h3v45h-3zM1049 430h3v7h-3zM1057 407h3v1h-3zM1065 402h3v34h-3zM1069 435h3v5h-3zM1073 439h3v19h-3zM1081 391h3v2h-3zM1093 344h3v15h-3zM1097 357h3v1h-3zM1113 264h3v1h-3zM1117 265h3v7h-3zM1125 281h3v19h-3zM1129 299h3v56h-3zM1133 354h3v23h-3zM1153 327h3v26h-3zM1157 353h3v24h-3zM1165 372h3v11h-3zM1173 380h3v50h-3zM1181 426h3v13h-3zM1193 362h3v14h-3zM1209 207h3v10h-3zM1213 214h3v2h-3zM1217 215h3v2h-3zM1241 162h3v7h-3zM1257 91h3v31h-3zM1261 120h3v2h-3zM1273 104h3v13h-3zM1277 116h3v32h-3zM1285 129h3v9h-3z" fill="#000"/>
<rect x="49" y="195" width="2" height="37" fill="#000"/><rect x="49" y="222" width="2" height="2" fill="#ffe000"/>
</g>
<g shape-rendering="crispEdges">
<rect x="1212" y="171" width="113" height="16" fill="#00ff00"/>
<rect x="1379" y="177" width="8" height="1" fill="#ff0000"/>
<rect x="1386.5" y="175.5" width="3" height="3" fill="#fff" stroke="#ff0000" stroke-width="1"/>
<rect x="1389.5" y="161.5" width="99" height="32" fill="#fff" stroke="#ff0000" stroke-width="1"/>
</g>
<text x="1390" y="188" font-size="29.6" fill="#ff0000" textLength="96.8" lengthAdjust="spacingAndGlyphs">0.68411</text>
<g transform="translate(1364.6,266) scale(1.012,.97)"><text x="0.3" y="0" font-size="32" font-weight="bold" fill="#002000" textLength="161" lengthAdjust="spacingAndGlyphs" transform="translate(1.1,1.1)" style="font-family:'Liberation Serif','Noto Serif CJK SC',serif">多空转折点</text><text x="0.3" y="0" font-size="32" font-weight="bold" fill="#00ff00" textLength="161" lengthAdjust="spacingAndGlyphs" style="font-family:'Liberation Serif','Noto Serif CJK SC',serif">多空转折点</text></g>
<g fill="#000">
<rect x="1627" y="579" width="1.5" height="1"/>
<rect x="1627" y="546" width="1.5" height="1"/>
<rect x="1627" y="513" width="1.5" height="1"/>
<rect x="1627" y="480" width="1.5" height="1"/>
<rect x="1627" y="447" width="1.5" height="1"/>
<rect x="1627" y="414" width="1.5" height="1"/>
<rect x="1627" y="380" width="1.5" height="1"/>
<rect x="1627" y="347" width="1.5" height="1"/>
<rect x="1627" y="314" width="1.5" height="1"/>
<rect x="1627" y="281" width="1.5" height="1"/>
<rect x="1627" y="248" width="1.5" height="1"/>
<rect x="1627" y="215" width="1.5" height="1"/>
<rect x="1627" y="181" width="1.5" height="1"/>
<rect x="1627" y="148" width="1.5" height="1"/>
<rect x="1627" y="115" width="1.5" height="1"/>
<rect x="1627" y="82" width="1.5" height="1"/>
<rect x="1627" y="49" width="1.5" height="1"/>
<rect x="1627" y="586" width="1.2" height="1"/>
<rect x="1627" y="678" width="1.5" height="1"/>
<rect x="1627" y="766" width="1" height="1"/>
<rect x="1627" y="771" width="1.5" height="1"/>
<rect x="1627" y="928" width="1" height="1"/>
</g>
<g font-size="9.9" fill="#000" stroke="#000" stroke-width=".15">
<text transform="translate(1632 582.9) scale(0.925 1)">0.66650</text>
<text transform="translate(1632 549.9) scale(0.925 1)">0.66795</text>
<text transform="translate(1632 516.9) scale(0.925 1)">0.66940</text>
<text transform="translate(1632 483.9) scale(0.925 1)">0.67085</text>
<text transform="translate(1632 450.9) scale(0.925 1)">0.67230</text>
<text transform="translate(1632 417.9) scale(0.925 1)">0.67375</text>
<text transform="translate(1632 383.9) scale(0.925 1)">0.67520</text>
<text transform="translate(1632 350.9) scale(0.925 1)">0.67665</text>
<text transform="translate(1632 317.9) scale(0.925 1)">0.67810</text>
<text transform="translate(1632 284.9) scale(0.925 1)">0.67955</text>
<text transform="translate(1632 251.9) scale(0.925 1)">0.68100</text>
<text transform="translate(1632 218.9) scale(0.925 1)">0.68245</text>
<text transform="translate(1632 184.9) scale(0.925 1)">0.68390</text>
<text transform="translate(1632 151.9) scale(0.925 1)">0.68535</text>
<text transform="translate(1632 118.9) scale(0.925 1)">0.68680</text>
<text transform="translate(1632 85.9) scale(0.925 1)">0.68825</text>
<text transform="translate(1632 52.9) scale(0.925 1)">0.68970</text>
</g>
<g shape-rendering="crispEdges">
<rect x="1628" y="29" width="41" height="11" fill="#ff0000"/>
<rect x="1628" y="75" width="41" height="11" fill="#ff0000"/>
<rect x="1628" y="130" width="41" height="11" fill="#000000"/>
<rect x="1628" y="171" width="41" height="11" fill="#00ff00"/>
<rect x="1628" y="217" width="41" height="11" fill="#0000ff"/>
<rect x="1628" y="275" width="41" height="11" fill="#0000ff"/>
</g>
<g font-size="9.9" fill="#fff" stroke="#fff" stroke-width=".12">
<text transform="translate(1632 37.9) scale(0.925 1)">0.69030</text>
<text transform="translate(1632 83.9) scale(0.925 1)">0.68829</text>
<text transform="translate(1632 138.9) scale(0.925 1)">0.68591</text>
<text transform="translate(1632 179.9) scale(0.925 1)">0.68411</text>
<text transform="translate(1632 225.9) scale(0.925 1)">0.68207</text>
<text transform="translate(1632 283.9) scale(0.925 1)">0.67953</text>
</g>
<g font-size="9.9" fill="#000" stroke="#000" stroke-width=".15">
<text transform="translate(1630 595) scale(0.925 1)">0.002989</text>
<text transform="translate(1630 682) scale(0.925 1)">0.00</text>
<text transform="translate(1630 764.3) scale(0.925 1)">-0.002858</text>
<text transform="translate(1630 780.2) scale(0.925 1)">100</text>
<text transform="translate(1629.3 806.3) scale(0.925 1)">80</text>
<text transform="translate(1629.3 853.3) scale(0.925 1)">50</text>
<text transform="translate(1629.3 909.3) scale(0.925 1)">15</text>
<text transform="translate(1630 926) scale(0.925 1)">0</text>
<text transform="translate(2 597.3) scale(0.94 1)">MACD(12,26,9) 0.001861 0.002373</text>
<text transform="translate(2 782.3) scale(0.94 1)">RSI(14) 61.2792</text>
</g>
<g shape-rendering="crispEdges">
<path d="M2.5 678V732M6.5 678V722M10.5 678V708M14.5 678V697M18.5 678V688M22.5 678V682M26.5 676V679M30.5 672V679M34.5 672V679M38.5 673V679M42.5 677V679M46.5 677V679M50.5 678V679M54.5 678V692M58.5 678V697M62.5 678V702M66.5 678V705M70.5 678V706M74.5 678V706M78.5 678V705M82.5 678V695M86.5 678V688M90.5 678V682M94.5 678V680M98.5 678V679M102.5 678V687M106.5 678V695M110.5 678V698M114.5 678V701M118.5 678V695M122.5 678V691M126.5 678V690M130.5 678V685M134.5 678V683M138.5 678V683M142.5 678V680M146.5 677V679M150.5 674V679M154.5 674V679M158.5 673V679M162.5 672V679M166.5 672V679M170.5 674V679M174.5 674V679M178.5 677V679M182.5 678V681M186.5 678V686M190.5 678V684M194.5 678V682M198.5 678V681M202.5 678V680M206.5 678V680M210.5 678V681M214.5 678V679M218.5 678V679M222.5 674V679M226.5 671V679M230.5 672V679M234.5 672V679M238.5 676V679M242.5 678V680M246.5 678V680M250.5 678V683M254.5 678V687M258.5 678V690M262.5 678V693M266.5 678V695M270.5 678V696M274.5 678V700M278.5 678V700M282.5 678V712M286.5 678V712M290.5 678V710M294.5 678V702M298.5 678V695M302.5 678V688M306.5 678V686M310.5 678V686M314.5 678V686M318.5 678V686M322.5 678V686M326.5 678V687M330.5 678V687M334.5 678V691M338.5 678V693M342.5 678V694M346.5 678V694M350.5 678V697M354.5 678V698M358.5 678V702M362.5 678V702M366.5 678V699M370.5 678V700M374.5 678V701M378.5 678V701M382.5 678V703M386.5 678V707M390.5 678V706M394.5 678V705M398.5 678V705M402.5 678V705M406.5 678V704M410.5 678V704M414.5 678V705M418.5 678V705M422.5 678V705M426.5 678V706M430.5 678V711M434.5 678V708M438.5 678V702M442.5 678V692M446.5 678V683M450.5 675V679M454.5 664V679M458.5 655V679M462.5 647V679M466.5 639V679M470.5 633V679M474.5 630V679M478.5 622V679M482.5 617V679M486.5 612V679M490.5 610V679M494.5 609V679M498.5 611V679M502.5 611V679M506.5 610V679M510.5 609V679M514.5 603V679M518.5 602V679M522.5 602V679M526.5 600V679M530.5 600V679M534.5 597V679M538.5 595V679M542.5 596V679M546.5 599V679M550.5 603V679M554.5 606V679M558.5 611V679M562.5 612V679M566.5 616V679M570.5 621V679M574.5 624V679M578.5 625V679M582.5 627V679M586.5 631V679M590.5 634V679M594.5 634V679M598.5 633V679M602.5 631V679M606.5 631V679M610.5 635V679M614.5 640V679M618.5 645V679M622.5 646V679M626.5 648V679M630.5 648V679M634.5 647V679M638.5 647V679M642.5 649V679M646.5 650V679M650.5 652V679M654.5 656V679M658.5 660V679M662.5 663V679M666.5 667V679M670.5 675V679M674.5 678V681M678.5 678V686M682.5 678V685M686.5 678V683M690.5 678V680M694.5 678V683M698.5 678V689M702.5 678V692M706.5 678V694M710.5 678V698M714.5 678V702M718.5 678V714M722.5 678V724M726.5 678V729M730.5 678V733M734.5 678V735M738.5 678V736M742.5 678V736M746.5 678V733M750.5 678V733M754.5 678V738M758.5 678V743M762.5 678V745M766.5 678V743M770.5 678V743M774.5 678V742M778.5 678V741M782.5 678V738M786.5 678V735M790.5 678V732M794.5 678V728M798.5 678V720M802.5 678V714M806.5 678V708M810.5 678V703M814.5 678V701M818.5 678V701M822.5 678V705M826.5 678V712M830.5 678V715M834.5 678V717M838.5 678V717M842.5 678V717M846.5 678V715M850.5 678V716M854.5 678V716M858.5 678V715M862.5 678V713M866.5 678V712M870.5 678V711M874.5 678V707M878.5 678V705M882.5 678V703M886.5 678V702M890.5 678V702M894.5 678V700M898.5 678V702M902.5 678V703M906.5 678V702M910.5 678V704M914.5 678V713M918.5 678V723M922.5 678V729M926.5 678V732M930.5 678V733M934.5 678V731M938.5 678V732M942.5 678V736M946.5 678V737M950.5 678V735M954.5 678V731M958.5 678V726M962.5 678V723M966.5 678V717M970.5 678V704M974.5 678V697M978.5 678V690M982.5 678V683M986.5 676V679M990.5 670V679M994.5 664V679M998.5 658V679M1002.5 655V679M1006.5 657V679M1010.5 658V679M1014.5 662V679M1018.5 666V679M1022.5 670V679M1026.5 674V679M1030.5 673V679M1034.5 673V679M1038.5 673V679M1042.5 678V679M1046.5 678V680M1050.5 678V683M1054.5 678V681M1058.5 678V681M1062.5 678V679M1066.5 678V681M1070.5 678V683M1074.5 678V688M1078.5 678V682M1082.5 678V679M1086.5 675V679M1090.5 668V679M1094.5 666V679M1098.5 662V679M1102.5 656V679M1106.5 650V679M1110.5 641V679M1114.5 635V679M1118.5 631V679M1122.5 630V679M1126.5 631V679M1130.5 639V679M1134.5 648V679M1138.5 652V679M1142.5 654V679M1146.5 655V679M1150.5 656V679M1154.5 660V679M1158.5 666V679M1162.5 671V679M1166.5 675V679M1170.5 678V679M1174.5 678V687M1178.5 678V692M1182.5 678V698M1186.5 678V696M1190.5 678V692M1194.5 678V689M1198.5 678V682M1202.5 674V679M1206.5 658V679M1210.5 647V679M1214.5 638V679M1218.5 632V679M1222.5 626V679M1226.5 622V679M1230.5 616V679M1234.5 612V679M1238.5 608V679M1242.5 607V679M1246.5 603V679M1250.5 599V679M1254.5 595V679M1258.5 595V679M1262.5 597V679M1266.5 598V679M1270.5 598V679M1274.5 602V679M1278.5 608V679M1282.5 612V679M1286.5 617V679M1290.5 621V679" stroke="#c0c0c0" stroke-width="1" fill="none"/>
</g>
<path d="M0 757.3C0.6 756.7 3.7 754 5 752.3C6.2 750.6 8.7 745.9 10 743.5C11.2 741.2 13.7 736.2 15 733.6C16.2 730.9 18.7 725.3 20 722.3C21.2 719.4 23.7 712.8 25 709.8C26.2 706.9 28.7 700.9 30 698.6C31.2 696.3 33.7 692.8 35 691.1C36.2 689.4 38.7 686.3 40 684.9C41.2 683.5 43.7 680.8 44.9 679.9C46.2 678.9 48.7 677.7 49.9 677.4C51.2 677.1 53.7 677.1 54.9 677.4C56.2 677.7 58.7 678.9 59.9 679.9C61.2 680.8 63.7 683.6 64.9 684.9C66.2 686.1 68.7 688.7 69.9 689.9C71.2 691 73.7 693.4 74.9 694.4C76.2 695.3 78.5 696.7 79.9 697.4C81.3 698 84.7 699.4 86.1 699.4C87.5 699.3 89.7 697.7 91.1 696.9C92.5 696 95.7 693.7 97.4 692.9C99.1 692 103 690.4 104.9 689.9C106.7 689.3 110.5 688.8 112.4 688.6C114.2 688.5 118 688.4 119.9 688.6C121.7 688.8 125.5 690 127.3 690.4C129.2 690.7 133 691.3 134.8 691.1C136.7 690.9 140.4 689.6 142.3 688.6C144.2 687.7 147.9 684.8 149.8 683.6C151.7 682.5 155.4 680.4 157.3 679.4C159.2 678.4 162.9 676.3 164.8 675.6C166.7 674.9 170.6 674.2 172.3 673.9C174 673.6 177 673.3 178.5 673.4C180.1 673.5 183.1 674.5 184.8 674.9C186.5 675.3 190.4 676.2 192.3 676.6C194.1 677.1 197.9 678.2 199.8 678.6C201.6 679.1 205.4 680 207.2 680.4C209.1 680.7 213.2 681.6 214.7 681.6C216.3 681.7 218.2 681.1 219.7 680.6C221.3 680.2 225.3 678.4 227.2 677.9C229.1 677.3 232.8 676.4 234.7 676.1C236.6 675.8 240.3 675.5 242.2 675.4C244.1 675.3 248.1 675.3 249.7 675.4C251.2 675.5 253.1 675.6 254.7 676.1C256.2 676.7 260.3 678.8 262.2 679.9C264 680.9 267.8 683.1 269.7 684.4C271.5 685.6 275.3 688.3 277.2 689.9C279 691.4 282.9 695.5 284.6 696.9C286.4 698.2 289.3 700 290.9 700.6C292.4 701.2 295.4 701.6 297.1 701.6C298.8 701.6 302.7 701.1 304.6 700.6C306.5 700.1 310.2 698.7 312.1 697.9C314 697 318 694.6 319.6 693.6C321.2 692.6 323.2 690.6 324.6 689.9C326 689.1 329.4 687.7 330.8 687.4C332.2 687 334.4 686.8 335.8 686.9C337.2 687 340.4 687.7 342.1 688.1C343.8 688.5 347.7 689.3 349.6 689.9C351.4 690.5 355.2 692.1 357.1 692.9C358.9 693.6 362.7 695 364.5 695.6C366.4 696.2 370.2 696.9 372 697.4C373.9 697.8 377.7 698.8 379.5 699.4C381.4 699.9 385.1 701.4 387 701.8C388.9 702.3 392.3 702.7 394.5 702.8C396.7 703 402 703.1 404.5 703.1C407 703.1 413 703 414.5 703.1C415.9 703.2 414.6 703.5 416 703.6C417.4 703.7 423.8 703.5 426 703.6C428.2 703.7 431.6 704.3 433.5 704.3C435.4 704.3 439.3 704 441 703.6C442.7 703.2 445.7 702.2 447.2 701.1C448.8 700 451.7 696.9 453.5 694.9C455.2 692.8 459.4 687.4 460.9 684.9C462.5 682.4 464.7 677.5 465.9 674.9C467.2 672.2 469.7 666.3 470.9 663.6C472.2 661 474.7 656.2 475.9 653.7C477.2 651.2 479.7 646 480.9 643.7C482.2 641.3 484.7 637 485.9 634.9C487.2 632.9 489.7 629.1 490.9 627.4C492.2 625.8 494.5 623.4 495.9 621.9C497.3 620.5 500.4 617.5 502.1 616.2C503.9 614.9 507.9 612.1 509.6 611.2C511.3 610.3 514.2 609.3 515.9 608.7C517.6 608.1 521.5 606.8 523.4 606.2C525.2 605.6 529 604.3 530.9 603.7C532.7 603.1 536.5 601.8 538.3 601.2C540.2 600.6 544.1 599 545.8 598.7C547.6 598.4 550.5 598.5 552.1 598.7C553.6 598.9 556.6 600 558.3 600.5C560 600.9 563.9 601.6 565.8 602.5C567.7 603.3 571.4 606.1 573.3 607.5C575.2 608.9 578.9 612.1 580.8 613.7C582.7 615.3 586.4 618.5 588.3 620C590.2 621.4 593.9 623.9 595.8 624.9C597.6 626 601.4 627.6 603.3 628.2C605.1 628.8 608.9 629.3 610.8 629.9C612.6 630.6 616.4 632.7 618.2 633.7C620.1 634.6 623.9 636.6 625.7 637.4C627.6 638.3 631.4 639.8 633.2 640.7C635.1 641.5 638.8 643.4 640.7 644.2C642.6 645 646.3 646.3 648.2 646.9C650.1 647.5 653.8 648.4 655.7 649.2C657.6 649.9 661.3 651.9 663.2 652.9C665.1 653.9 668.8 655.4 670.7 656.9C672.6 658.4 676.3 663.1 678.2 664.9C680 666.7 684.1 670.3 685.7 671.6C687.2 673 689.1 674.6 690.7 675.6C692.2 676.7 696.3 678.8 698.1 679.9C700 681 703.8 683.4 705.6 684.4C707.5 685.3 711.4 686.2 713.1 687.4C714.8 688.5 717.8 691.9 719.4 693.6C720.9 695.3 723.9 698.9 725.6 701.1C727.3 703.3 731.2 708.7 733.1 711.1C735 713.4 738.7 717.8 740.6 719.8C742.5 721.9 746.2 725.7 748.1 727.3C750 728.9 753.7 731.6 755.6 732.8C757.4 734 761.2 736.1 763.1 736.8C764.9 737.5 768.7 738.2 770.6 738.6C772.4 738.9 776.2 739.1 778 739.3C779.9 739.5 783.7 740.3 785.5 740.3C787.4 740.3 791.2 740 793 739.3C794.9 738.6 798.6 736.3 800.5 734.8C802.4 733.3 806.1 729.3 808 727.3C809.9 725.4 813.6 721.2 815.5 719.3C817.4 717.5 821.4 713.7 823 712.3C824.6 711 826.9 709.2 828 708.6C829.1 708 830.6 707.3 832 707.3C833.4 707.3 837.6 708.1 839.5 708.6C841.4 709.1 845.1 711 847 711.6C848.9 712.2 852.6 713.1 854.5 713.6C856.3 714.1 860.1 715.2 862 715.3C863.8 715.4 867.6 714.7 869.5 714.3C871.3 714 875.1 713 876.9 712.3C878.8 711.7 882.6 710.1 884.4 709.3C886.3 708.6 890.1 706.8 891.9 706.1C893.8 705.4 897.5 704.1 899.4 703.6C901.3 703.1 905.2 702.1 906.9 701.8C908.6 701.6 911.7 701.4 913.1 701.6C914.6 701.8 916.7 702.6 918.1 703.6C919.5 704.6 922.7 708.3 924.4 709.8C926.1 711.4 930 714.4 931.9 716.1C933.7 717.8 937.5 721.9 939.4 723.6C941.2 725.2 945 728.2 946.9 729.3C948.7 730.4 952.5 732.2 954.3 732.3C956.2 732.4 960.1 730.8 961.8 730.3C963.6 729.8 966.5 729.6 968.1 728.6C969.6 727.6 972.6 724.5 974.3 722.3C976 720.1 979.9 713.9 981.8 711.1C983.7 708.3 987.7 702.5 989.3 699.9C990.9 697.2 993 692.2 994.3 689.9C995.5 687.5 997.9 683.3 999.3 681.1C1000.7 678.9 1004 674.3 1005.5 672.4C1007.1 670.5 1010.1 667.4 1011.8 666.1C1013.5 664.9 1017.4 663 1019.3 662.4C1021.1 661.8 1025 661.6 1026.8 661.6C1028.5 661.7 1031.4 662.3 1033 662.9C1034.6 663.5 1037.5 665.1 1039.2 666.1C1041 667.2 1044.9 670 1046.7 671.1C1048.6 672.2 1052.3 674.1 1054.2 674.9C1056.1 675.7 1059.8 676.8 1061.7 677.4C1063.6 677.9 1067.3 678.6 1069.2 679.1C1071.1 679.7 1075.1 681.5 1076.7 681.9C1078.3 682.2 1080.1 682.1 1081.7 681.9C1083.2 681.6 1087.3 680.4 1089.2 679.9C1091.1 679.4 1095 678.7 1096.7 677.9C1098.4 677.1 1101.4 675.1 1102.9 673.6C1104.5 672.2 1107.4 668.3 1109.2 666.1C1110.9 664 1114.8 658.5 1116.6 656.2C1118.5 653.8 1122.3 649.4 1124.1 647.4C1126 645.5 1129.8 641.7 1131.6 640.7C1133.5 639.6 1137.2 639.1 1139.1 639.2C1141 639.2 1144.7 640.4 1146.6 641.2C1148.5 642 1152.2 644 1154.1 645.4C1156 646.8 1159.7 650.5 1161.6 652.4C1163.5 654.3 1167.2 658.8 1169.1 660.6C1171 662.5 1175 665.8 1176.6 667.4C1178.1 669 1180.3 672.1 1181.6 673.6C1182.8 675.1 1185.3 678 1186.6 679.4C1187.8 680.7 1190.1 683.4 1191.6 684.4C1193 685.4 1196.4 687.1 1197.8 687.4C1199.2 687.6 1201.4 686.9 1202.8 686.1C1204.2 685.3 1207.6 682.5 1209 681.1C1210.4 679.7 1212.5 677.2 1214 674.9C1215.6 672.5 1219.6 665.8 1221.5 662.4C1223.4 659 1227.1 651 1229 647.4C1230.9 643.8 1234.6 637 1236.5 633.7C1238.4 630.4 1242.2 623.7 1244 621.2C1245.7 618.7 1248.7 615.6 1250.4 613.7C1252.1 611.8 1256 607.7 1257.9 606.2C1259.8 604.8 1263.5 602.9 1265.4 602C1267.3 601 1271.2 599.1 1272.9 598.7C1274.6 598.4 1277.6 598.8 1279.1 599.2C1280.7 599.6 1284 601.3 1285.4 602C1286.7 602.6 1289.3 604.2 1289.8 604.5" stroke="#ff0000" stroke-width="1" fill="none" stroke-dasharray="3 3" shape-rendering="crispEdges"/>
<g shape-rendering="crispEdges" stroke="#c0c0c0" stroke-width="1" stroke-dasharray="3 3">
<path d="M-1 802.5H1626"/>
<path d="M-1 849.5H1626"/>
<path d="M-1 905.5H1626"/>
</g>
<path d="M-1.5 855.1L2.5 851.1L6.5 846.9L10.5 838.7L14.5 839.4L18.5 838.7L22.5 841.2L26.5 839.9L30.5 840.4L34.5 847.4L38.5 849.9L42.5 857.4L46.5 851.1L50.5 858.6L54.5 870.6L58.5 864.4L62.5 866.1L66.5 863.1L70.5 861.1L74.5 862.4L78.5 856.9L82.5 839.2L86.5 840.4L90.5 839.4L94.5 841.2L98.5 851.1L102.5 866.1L106.5 869.9L110.5 866.9L114.5 859.9L118.5 845.4L122.5 846.1L126.5 849.4L130.5 845.4L134.5 848.1L138.5 851.6L142.5 840.4L146.5 848.1L150.5 842.4L154.5 847.4L158.5 846.1L162.5 844.4L166.5 846.9L170.5 850.4L174.5 850.4L178.5 855.4L182.5 861.1L186.5 865.6L190.5 847.4L194.5 847.4L198.5 850.4L202.5 849.4L206.5 848.6L210.5 851.6L214.5 844.4L218.5 848.1L222.5 835.7L226.5 839.4L230.5 849.4L234.5 845.4L238.5 859.9L242.5 852.4L246.5 856.1L250.5 859.4L254.5 863.1L258.5 864.4L262.5 863.6L266.5 865.4L270.5 865.6L274.5 870.4L278.5 864.9L282.5 888.6L286.5 860.4L290.5 856.1L294.5 848.6L298.5 839.2L302.5 843.7L306.5 846.1L310.5 851.1L314.5 855.4L318.5 849.9L322.5 853.1L326.5 854.9L330.5 854.4L334.5 864.4L338.5 858.6L342.5 857.4L346.5 857.4L350.5 864.4L354.5 859.9L358.5 867.4L362.5 858.6L366.5 850.4L370.5 860.4L374.5 863.1L378.5 857.4L382.5 868.1L386.5 864.1L390.5 858.6L394.5 858.6L398.5 859.4L402.5 860.4L406.5 858.6L410.5 857.4L414.5 866.1L418.5 866.6L422.5 866.6L426.5 869.9L430.5 878.6L434.5 857.4L438.5 848.6L442.5 833.7L446.5 831.9L450.5 829.9L454.5 822.9L458.5 821.2L462.5 817.9L466.5 816.2L470.5 815.4L474.5 816.7L478.5 808.2L482.5 814.2L486.5 809.4L490.5 813.7L494.5 818.2L498.5 823.7L502.5 819.4L506.5 815.4L510.5 815.4L514.5 805L518.5 813.7L522.5 816.7L526.5 813.7L530.5 811.9L534.5 806.9L538.5 806.2L542.5 816.9L546.5 817.9L550.5 826.7L554.5 822.4L558.5 831.2L562.5 823.2L566.5 830.4L570.5 833.7L574.5 830.4L578.5 827.4L582.5 828.7L586.5 838.7L590.5 834.4L594.5 827.4L598.5 822.9L602.5 821.2L606.5 827.4L610.5 836.2L614.5 843.2L618.5 843.7L622.5 836.2L626.5 839.4L630.5 834.2L634.5 827.4L638.5 834.2L642.5 836.7L646.5 836.7L650.5 838.7L654.5 848.1L658.5 851.6L662.5 849.4L666.5 854.9L670.5 872.4L674.5 868.6L678.5 868.1L682.5 852.4L686.5 845.4L690.5 845.4L694.5 859.9L698.5 868.1L702.5 864.1L706.5 861.6L710.5 868.6L714.5 874.9L718.5 887.8L722.5 889.3L726.5 885.6L730.5 882.4L734.5 881.9L738.5 884.4L742.5 878.6L746.5 870.4L750.5 878.6L754.5 887.3L758.5 889.3L762.5 882.4L766.5 873.6L770.5 879.4L774.5 875.6L778.5 874.1L782.5 872.4L786.5 872.4L790.5 872.4L794.5 864.1L798.5 849.9L802.5 852.4L806.5 846.1L810.5 847.4L814.5 858.1L818.5 862.9L822.5 871.1L826.5 880.4L830.5 876.9L834.5 874.9L838.5 869.9L842.5 871.1L846.5 864.4L850.5 871.1L854.5 873.6L858.5 869.1L862.5 863.1L866.5 864.1L870.5 866.1L874.5 857.4L878.5 859.1L882.5 858.6L886.5 862.4L890.5 866.6L894.5 859.4L898.5 870.4L902.5 865.4L906.5 864.4L910.5 872.4L914.5 893.1L918.5 894.8L922.5 888.1L926.5 884.9L930.5 881.1L934.5 871.6L938.5 879.1L942.5 887.3L946.5 874.1L950.5 866.1L954.5 863.6L958.5 859.9L962.5 862.4L966.5 852.9L970.5 835.7L974.5 841.7L978.5 839.9L982.5 834.4L986.5 834.2L990.5 830.4L994.5 829.2L998.5 824.9L1002.5 833.7L1006.5 843.2L1010.5 843.7L1014.5 851.1L1018.5 851.6L1022.5 858.6L1026.5 857.4L1030.5 846.1L1034.5 846.9L1038.5 846.1L1042.5 861.6L1046.5 857.9L1050.5 859.4L1054.5 848.6L1058.5 848.1L1062.5 846.1L1066.5 857.9L1070.5 859.9L1074.5 865.6L1078.5 842.9L1082.5 841.9L1086.5 834.9L1090.5 830.4L1094.5 835.7L1098.5 835.7L1102.5 827.4L1106.5 821.9L1110.5 815.4L1114.5 815.4L1118.5 817.9L1122.5 822.4L1126.5 831.2L1130.5 849.9L1134.5 856.6L1138.5 847.4L1142.5 844.2L1146.5 843.2L1150.5 842.4L1154.5 850.6L1158.5 858.6L1162.5 856.1L1166.5 858.6L1170.5 858.6L1174.5 871.6L1178.5 870.6L1182.5 873.1L1186.5 851.1L1190.5 846.9L1194.5 849.9L1198.5 833.7L1202.5 830.4L1206.5 816.9L1210.5 819.2L1214.5 819.2L1218.5 820.4L1222.5 817.4L1226.5 816.2L1230.5 812.4L1234.5 811.9L1238.5 809.4L1242.5 814.4L1246.5 809.4L1250.5 806.9L1254.5 804.2L1258.5 817.4L1262.5 816.7L1266.5 814.9L1270.5 814.2L1274.5 820.4L1278.5 833.2L1282.5 829.4L1286.5 831.9L1290.5 832.4" stroke="#1e90ff" stroke-width="1" fill="none" stroke-linejoin="round" shape-rendering="crispEdges"/>
<g shape-rendering="crispEdges" fill="#000">
<rect x="-2" y="930" width="1" height="3"/>
<rect x="62" y="930" width="1" height="3"/>
<rect x="126" y="930" width="1" height="3"/>
<rect x="190" y="930" width="1" height="3"/>
<rect x="254" y="930" width="1" height="3"/>
<rect x="318" y="930" width="1" height="3"/>
<rect x="382" y="930" width="1" height="3"/>
<rect x="446" y="930" width="1" height="3"/>
<rect x="510" y="930" width="1" height="3"/>
<rect x="574" y="930" width="1" height="3"/>
<rect x="638" y="930" width="1" height="3"/>
<rect x="702" y="930" width="1" height="3"/>
<rect x="766" y="930" width="1" height="3"/>
<rect x="830" y="930" width="1" height="3"/>
<rect x="894" y="930" width="1" height="3"/>
<rect x="958" y="930" width="1" height="3"/>
<rect x="1022" y="930" width="1" height="3"/>
<rect x="1086" y="930" width="1" height="3"/>
<rect x="1150" y="930" width="1" height="3"/>
<rect x="1214" y="930" width="1" height="3"/>
<rect x="1278" y="930" width="1" height="3"/>
</g>
<g font-size="9.9" fill="#000" stroke="#000" stroke-width=".15">
<text transform="translate(-1.7 941.9) scale(0.949 1)">8 Aug 2019</text>
<text transform="translate(61 941.9) scale(0.949 1)">12 Aug 16:00</text>
<text transform="translate(125 941.9) scale(0.949 1)">15 Aug 08:00</text>
<text transform="translate(189 941.9) scale(0.949 1)">20 Aug 00:00</text>
<text transform="translate(253 941.9) scale(0.949 1)">22 Aug 16:00</text>
<text transform="translate(317 941.9) scale(0.949 1)">27 Aug 08:00</text>
<text transform="translate(381 941.9) scale(0.949 1)">30 Aug 00:00</text>
<text transform="translate(445 941.9) scale(0.949 1)">3 Sep 16:00</text>
<text transform="translate(509 941.9) scale(0.949 1)">6 Sep 08:00</text>
<text transform="translate(573 941.9) scale(0.949 1)">11 Sep 00:00</text>
<text transform="translate(637 941.9) scale(0.949 1)">13 Sep 16:00</text>
<text transform="translate(701 941.9) scale(0.949 1)">18 Sep 08:00</text>
<text transform="translate(765 941.9) scale(0.949 1)">23 Sep 00:00</text>
<text transform="translate(829 941.9) scale(0.949 1)">25 Sep 16:00</text>
<text transform="translate(893 941.9) scale(0.949 1)">30 Sep 08:00</text>
<text transform="translate(957 941.9) scale(0.949 1)">3 Oct 00:00</text>
<text transform="translate(1021 941.9) scale(0.949 1)">7 Oct 16:00</text>
<text transform="translate(1085 941.9) scale(0.949 1)">10 Oct 08:00</text>
<text transform="translate(1149 941.9) scale(0.949 1)">15 Oct 00:00</text>
<text transform="translate(1213 941.9) scale(0.949 1)">17 Oct 16:00</text>
<text transform="translate(1277 941.9) scale(0.949 1)">22 Oct 08:00</text>
</g>
</svg>
<div id="tb"><div class="sh1"></div><div class="sh2"></div><div class="sh3"></div>
<svg id="tbi" width="1674" height="27" viewBox="0 0 1674 27">
<defs>
<linearGradient id="gold" x1="0" y1="0" x2="1" y2="1"><stop offset="0" stop-color="#fff0a0"/><stop offset=".45" stop-color="#f2c21a"/><stop offset="1" stop-color="#b87c08"/></linearGradient>
<linearGradient id="grn" x1="0" y1="0" x2="0" y2="1"><stop offset="0" stop-color="#74f574"/><stop offset="1" stop-color="#10c010"/></linearGradient>
<linearGradient id="blu" x1="0" y1="0" x2="0" y2="1"><stop offset="0" stop-color="#6fb2ff"/><stop offset="1" stop-color="#1c5fd0"/></linearGradient>
<linearGradient id="lens" x1="0" y1="0" x2="0" y2="1"><stop offset="0" stop-color="#f2faff"/><stop offset="1" stop-color="#b4def4"/></linearGradient>
<linearGradient id="cloud" x1="0" y1="0" x2="0" y2="1"><stop offset="0" stop-color="#ffffff"/><stop offset="1" stop-color="#b8cdea"/></linearGradient>
<linearGradient id="bub" x1="0" y1="0" x2="0" y2="1"><stop offset="0" stop-color="#ffffff"/><stop offset="1" stop-color="#d4d6e4"/></linearGradient>
</defs>
<path d="M-3 5.5H5.8L8.7 8.4V19H-3Z" fill="#fff" stroke="#8c8c8c" stroke-width="1"/><path d="M5.8 5.5V8.4H8.7" fill="none" stroke="#8c8c8c" stroke-width=".8"/><path d="M-1 8H1.8" stroke="#8a8a8a" stroke-width="1.6"/><path d="M-1 10.6H5.5M-1 13.4H3.7" stroke="#a8a8a8" stroke-width="1.1"/>
<path d="M5.1 11.2H9V15.1H12.8V18.9H9V22.8H5.1V18.9H1.3V15.1H5.1Z" fill="url(#grn)" stroke="#0d8a0d" stroke-width=".9"/>
<text transform="translate(16,16.2) scale(1,1.07)" x="0" y="0" font-size="12" fill="#000" style="font-family:'Liberation Sans','Noto Sans CJK SC',sans-serif">新订单</text>
<path d="M64.2 14.8L68.5 6.3L79.6 13.4L79.6 14.8L71.4 20.7L64.2 16Z" fill="#a8700a"/><path d="M64.2 14.6L68.6 6.1L79.6 13.3L71.3 19.2Z" fill="url(#gold)" stroke="#b07a0c" stroke-width=".6"/><path d="M67.2 10.2L70 7.6L76.8 12.2L71.2 16.6Z" fill="#fff3a0" opacity=".35"/>
<path d="M94.3 6.6L97.3 5.1L104.7 5.1L104.7 14.8L94.3 14.8Z" fill="#1e8cf8" stroke="#1470d8" stroke-width=".6"/><path d="M94.6 6.8L97.2 5.5V14.6H94.6Z" fill="#bfe4ff"/><path d="M98.6 8.2H104V11.6H98.6Z" fill="#63b6ff"/><path d="M99.3 9.2H103.4M99.3 10.6H103.4" stroke="#eaf6ff" stroke-width=".8"/>
<path d="M95.2 20.6C91.8 20.6 91.4 16.8 94.4 16.3C94.6 13.4 98.8 13 99.8 15.3C101.6 13.3 105 14.5 104.8 16.7C108.4 16.5 108.6 20.6 105.4 20.6Z" fill="url(#cloud)" stroke="#5f80bd" stroke-width=".9"/>
<path d="M128 12.8L128 20.6A7.8 7.8 0 0 0 135.8 12.8Z" fill="#58b058" opacity=".55"/><path d="M128 5A7.8 7.8 0 0 1 135.8 12.8H128Z" fill="#8cc88c" opacity=".3"/>
<g fill="none"><circle cx="128" cy="12.8" r="7.5" stroke="#90a8e0" stroke-width=".9" opacity=".75"/><circle cx="128" cy="12.8" r="5.2" stroke="#6a8ad8" stroke-width=".9" opacity=".8"/><circle cx="128" cy="12.8" r="3" stroke="#5578d0" stroke-width=".9" opacity=".8"/></g><path d="M128.2 12.8V20.5" stroke="#22a022" stroke-width="1.3"/><circle cx="127.9" cy="12.6" r="1.6" fill="#2858c8"/>
<path d="M148.6 10.5C151 15 152.5 19.5 156 20.5C159.5 19.5 161.5 15 162.6 10.5Z" fill="url(#gold)" stroke="#b88a10" stroke-width=".7"/>
<ellipse cx="155.5" cy="10" rx="7.8" ry="2.6" fill="#58a4e0" stroke="#3a80c8" stroke-width=".8"/><path d="M150.8 9.6C151 4.6 160 4.6 160.2 9.6C157.5 11 153.5 11 150.8 9.6Z" fill="#84c0f0" stroke="#3a80c8" stroke-width=".8"/>
<circle cx="159.6" cy="16.8" r="3.9" fill="#e02a1a" stroke="#b01408" stroke-width=".7"/><rect x="158.1" y="15.3" width="3" height="3" fill="#fff"/>
<text transform="translate(167.8,16.2) scale(1.012,1.07)" x="0" y="0" font-size="12" fill="#000" style="font-family:'Liberation Sans','Noto Sans CJK SC',sans-serif">自动交易</text>
<rect x="223" y="0" width="1" height="24" fill="#a0a0a0" shape-rendering="crispEdges"/><rect x="224" y="0" width="1" height="24" fill="#ffffff" shape-rendering="crispEdges"/>
<g shape-rendering="crispEdges" fill="#a8a8a8"><rect x="227" y="3" width="3" height="1"/><rect x="227" y="5" width="3" height="1"/><rect x="227" y="7" width="3" height="1"/><rect x="227" y="9" width="3" height="1"/><rect x="227" y="11" width="3" height="1"/><rect x="227" y="13" width="3" height="1"/><rect x="227" y="15" width="3" height="1"/><rect x="227" y="17" width="3" height="1"/><rect x="227" y="19" width="3" height="1"/><rect x="227" y="21" width="3" height="1"/></g>
<path d="M241.5 8V20.6M239 18.5H252.0" stroke="#505050" stroke-width="1" fill="none"/><path d="M241.5 6.3l1.8 2.9h-3.6zM253.5 18.5l-2.9 1.8v-3.6z" fill="#505050"/>
<path d="M247.5 8V16.8M245 15.7H247.5M247.5 9.5H250.2" stroke="#0a8a0a" stroke-width="1.4" fill="none"/>
<g shape-rendering="crispEdges"><rect x="261" y="1" width="25" height="22" fill="#f8f8f8"/><rect x="261" y="1" width="25" height="1" fill="#8e8e8e"/><rect x="261" y="1" width="1" height="22" fill="#8e8e8e"/><rect x="262" y="22" width="24" height="1" fill="#fff"/><rect x="285" y="2" width="1" height="21" fill="#fff"/></g>
<path d="M269.5 8V20.6M267 18.5H280.0" stroke="#505050" stroke-width="1" fill="none"/><path d="M269.5 6.3l1.8 2.9h-3.6zM281.5 18.5l-2.9 1.8v-3.6z" fill="#505050"/>
<path d="M275.5 5.1V16.7" stroke="#0a8a0a" stroke-width="1.2"/><rect x="273.4" y="7.4" width="4.4" height="7" fill="#34e034" stroke="#0a8a0a" stroke-width=".9"/>
<path d="M297.5 8V20.6M295 18.5H308.0" stroke="#505050" stroke-width="1" fill="none"/><path d="M297.5 6.3l1.8 2.9h-3.6zM309.5 18.5l-2.9 1.8v-3.6z" fill="#505050"/>
<path d="M296.5 16.5C298.5 13 300.5 10.2 302.6 10.2C304.8 10.2 306.5 12.6 308.4 14.6" stroke="#2a9a2a" stroke-width="1.3" fill="none"/>
<rect x="318" y="2" width="1" height="20" fill="#a0a0a0" shape-rendering="crispEdges"/><rect x="319" y="2" width="1" height="20" fill="#ffffff" shape-rendering="crispEdges"/>
<path d="M337 15.5L341.6 20.1" stroke="#8a6a10" stroke-width="3.6" stroke-linecap="round"/><path d="M337 15.5L341.6 20.1" stroke="#e8c040" stroke-width="2.2" stroke-linecap="round"/>
<circle cx="333" cy="11.3" r="5.6" fill="url(#lens)" stroke="#3f86cc" stroke-width="1.3"/>
<path d="M330 11.3H336M333 8.3V14.3" stroke="#3a86b4" stroke-width="2.1"/>
<path d="M365 15.5L369.6 20.1" stroke="#8a6a10" stroke-width="3.6" stroke-linecap="round"/><path d="M365 15.5L369.6 20.1" stroke="#e8c040" stroke-width="2.2" stroke-linecap="round"/>
<circle cx="361" cy="11.3" r="5.6" fill="url(#lens)" stroke="#3f86cc" stroke-width="1.3"/>
<path d="M358 11.3H364" stroke="#3a86b4" stroke-width="2.1"/>
<rect x="383.1" y="5.1" width="7.8" height="7.8" rx=".8" fill="#3f9f14"/><path d="M384.3 8.3h5.4v3.8h-1v-.9h-3.4v.9h-1z" fill="#fff"/><rect x="385.3" y="9.399999999999999" width="3.4" height=".9" fill="#b8e0a0"/><rect x="384.20000000000005" y="6.199999999999999" width="1.2" height="1.2" fill="#e8f4ff"/>
<rect x="391.1" y="5.1" width="7.8" height="7.8" rx=".8" fill="#2358d8"/><path d="M392.3 8.3h5.4v3.8h-1v-.9h-3.4v.9h-1z" fill="#fff"/><rect x="393.3" y="9.399999999999999" width="3.4" height=".9" fill="#b0c8f8"/><rect x="392.20000000000005" y="6.199999999999999" width="1.2" height="1.2" fill="#e8f4ff"/>
<rect x="383.1" y="13.1" width="7.8" height="7.8" rx=".8" fill="#2358d8"/><path d="M384.3 16.3h5.4v3.8h-1v-.9h-3.4v.9h-1z" fill="#fff"/><rect x="385.3" y="17.4" width="3.4" height=".9" fill="#b0c8f8"/><rect x="384.20000000000005" y="14.2" width="1.2" height="1.2" fill="#e8f4ff"/>
<rect x="391.1" y="13.1" width="7.8" height="7.8" rx=".8" fill="#3f9f14"/><path d="M392.3 16.3h5.4v3.8h-1v-.9h-3.4v.9h-1z" fill="#fff"/><rect x="393.3" y="17.4" width="3.4" height=".9" fill="#b8e0a0"/><rect x="392.20000000000005" y="14.2" width="1.2" height="1.2" fill="#e8f4ff"/>
<rect x="408" y="2" width="1" height="20" fill="#a0a0a0" shape-rendering="crispEdges"/><rect x="409" y="2" width="1" height="20" fill="#ffffff" shape-rendering="crispEdges"/>
<g shape-rendering="crispEdges"><rect x="413" y="1" width="25" height="22" fill="#f8f8f8"/><rect x="413" y="1" width="25" height="1" fill="#8e8e8e"/><rect x="413" y="1" width="1" height="22" fill="#8e8e8e"/><rect x="414" y="22" width="24" height="1" fill="#fff"/><rect x="437" y="2" width="1" height="21" fill="#fff"/></g>
<path d="M421.5 8V20.6M419 18.5H432.0" stroke="#505050" stroke-width="1" fill="none"/><path d="M421.5 6.3l1.8 2.9h-3.6zM433.5 18.5l-2.9 1.8v-3.6z" fill="#505050"/>
<path d="M426.4 9.2L430.2 12.5L426.4 15.8Z" fill="#7be07b" stroke="#12a012" stroke-width="1.2" stroke-linejoin="round"/>
<g shape-rendering="crispEdges"><rect x="441" y="1" width="25" height="22" fill="#f8f8f8"/><rect x="441" y="1" width="25" height="1" fill="#8e8e8e"/><rect x="441" y="1" width="1" height="22" fill="#8e8e8e"/><rect x="442" y="22" width="24" height="1" fill="#fff"/><rect x="465" y="2" width="1" height="21" fill="#fff"/></g>
<path d="M449.5 8V20.6M447 18.5H460.0" stroke="#505050" stroke-width="1" fill="none"/><path d="M449.5 6.3l1.8 2.9h-3.6zM461.5 18.5l-2.9 1.8v-3.6z" fill="#505050"/>
<path d="M455.5 7.2V16.7" stroke="#1a70a8" stroke-width="1.2"/><path d="M461 12.5H457.2" stroke="#d04808" stroke-width="1.3" fill="none"/><path d="M456.3 12.5L459.4 10.4L458.8 12.5L459.4 14.6Z" fill="#d04808" stroke="#d04808" stroke-width=".5"/>
<rect x="470" y="2" width="1" height="20" fill="#a0a0a0" shape-rendering="crispEdges"/><rect x="471" y="2" width="1" height="20" fill="#ffffff" shape-rendering="crispEdges"/>
<path d="M480.5 5.5H487L490.5 9V18.5H480.5Z" fill="#fbfbfb" stroke="#8a8a8a" stroke-width=".9"/><path d="M487 5.5V9H490.5" fill="none" stroke="#8a8a8a" stroke-width=".8"/>
<text x="482.4" y="14.4" font-size="10" font-style="italic" font-family="Liberation Serif,serif" fill="#222">f</text>
<path d="M488.1 10.9H492.3V14.8H496.2V19H492.3V22.9H488.1V19H484.2V14.8H488.1Z" fill="url(#grn)" stroke="#0d8a0d" stroke-width=".9"/>
<path d="M501.7 12h5.4l-2.7 3.2z" fill="#000"/>
<circle cx="526.2" cy="12.9" r="7.5" fill="url(#blu)" stroke="#1450b8" stroke-width=".9"/><circle cx="526.2" cy="12.9" r="5.4" fill="#fdfeff" stroke="#8ab0e8" stroke-width=".6"/><g fill="#9aa8b8"><circle cx="526.2" cy="8.9" r=".5"/><circle cx="526.2" cy="17" r=".5"/><circle cx="522.1" cy="12.9" r=".5"/><circle cx="530.3" cy="12.9" r=".5"/><circle cx="523.3" cy="10" r=".4"/><circle cx="529.1" cy="10" r=".4"/><circle cx="523.3" cy="15.8" r=".4"/><circle cx="529.1" cy="15.8" r=".4"/></g><path d="M525.4 9.6L526.2 13L529 13.4" stroke="#222" stroke-width="1.2" fill="none"/>
<path d="M540.8 12h5.4l-2.7 3.2z" fill="#000"/>
<rect x="557.4" y="6.4" width="15.4" height="13.4" fill="#fff" stroke="#3a70c4" stroke-width=".9"/><rect x="557.4" y="6.4" width="15.4" height="2.6" fill="#3f7fe0"/><path d="M557.5 14.2H572.5" stroke="#9ab8e4" stroke-width=".8"/>
<path d="M559.2 12.5L563.1 10.8L565.2 10.3L567 11.3L570.6 10.6" stroke="#a82808" stroke-width="1.3" fill="none"/><path d="M559.9 17.2L563.1 16.6L565.2 17.2L568.1 15.4L570.6 17.2" stroke="#128a12" stroke-width="1.3" fill="none"/>
<path d="M579.5 12h5.4l-2.7 3.2z" fill="#000"/>
<rect x="591" y="0" width="1" height="24" fill="#a0a0a0" shape-rendering="crispEdges"/><rect x="592" y="0" width="1" height="24" fill="#ffffff" shape-rendering="crispEdges"/>
<g shape-rendering="crispEdges" fill="#a8a8a8"><rect x="595" y="3" width="3" height="1"/><rect x="595" y="5" width="3" height="1"/><rect x="595" y="7" width="3" height="1"/><rect x="595" y="9" width="3" height="1"/><rect x="595" y="11" width="3" height="1"/><rect x="595" y="13" width="3" height="1"/><rect x="595" y="15" width="3" height="1"/><rect x="595" y="17" width="3" height="1"/><rect x="595" y="19" width="3" height="1"/><rect x="595" y="21" width="3" height="1"/></g>
<g shape-rendering="crispEdges"><rect x="601" y="1" width="25" height="22" fill="#f8f8f8"/><rect x="601" y="1" width="25" height="1" fill="#8e8e8e"/><rect x="601" y="1" width="1" height="22" fill="#8e8e8e"/><rect x="602" y="22" width="24" height="1" fill="#fff"/><rect x="625" y="2" width="1" height="21" fill="#fff"/></g>
<path d="M609 6.5V18.2L611.8 15.6L614 20.3L616 19.4L613.8 14.8L617.6 14.6Z" fill="#3c3c3c" stroke="#555" stroke-width=".5"/>
<path d="M634 13.5H640M643 13.5H649M641.5 6V12M641.5 15V20.5" stroke="#444" stroke-width="1.1"/><rect x="641" y="13" width="1" height="1" fill="#444"/>
<rect x="658" y="2" width="1" height="20" fill="#a0a0a0" shape-rendering="crispEdges"/><rect x="659" y="2" width="1" height="20" fill="#ffffff" shape-rendering="crispEdges"/>
<path d="M675.5 6.5V19.8M698 13.5H710M725.7 19.8L738.2 7.9" stroke="#4a4a4a" stroke-width="1.2" fill="none"/>
<g stroke="#505050" stroke-width="1" fill="none"><path d="M751.3 14.3L764.3 5.4M752 17.2L765.4 8.2M754.9 19.3L766.5 11.2M756.6 17.8L759 9.2M759.8 16L762.2 7M763 13.8L765 5.2"/></g><text x="762.6" y="21.6" font-size="6.3" font-weight="bold" fill="#3a3a3a">E</text>
<g stroke="#555" stroke-width="1" stroke-dasharray="1 1" fill="none"><path d="M781 6.5H794.5M781 9H794.5M781 13.4H794.5M781 17.5H790"/></g><text x="790.8" y="21.6" font-size="6.3" font-weight="bold" fill="#3a3a3a">F</text>
<text x="811.6" y="17.6" font-size="12" fill="#555" stroke="#555" stroke-width=".3" textLength="8" lengthAdjust="spacingAndGlyphs">A</text>
<rect x="838.5" y="7.3" width="11" height="12" fill="none" stroke="#444" stroke-width="1" stroke-dasharray="1 1.2"/><text x="840" y="17.6" font-size="10.6" font-weight="bold" fill="#505050" textLength="7.6" lengthAdjust="spacingAndGlyphs">T</text><rect x="837.3" y="5.9" width="1.8" height="1.4" fill="#333"/>
<path d="M868.4 7L871.9 9.8L868.4 11.8L865 9.8Z M875.6 15L879 17.2L875.6 19.9L872.2 17.2Z" fill="#444"/><path d="M867.3 14.6L870 16.6L874.2 11" stroke="#444" stroke-width="1.5" fill="none"/>
<path d="M885.8 12h5.4l-2.7 3.2z" fill="#000"/>
<rect x="897" y="0" width="1" height="24" fill="#a0a0a0" shape-rendering="crispEdges"/><rect x="898" y="0" width="1" height="24" fill="#ffffff" shape-rendering="crispEdges"/>
<g shape-rendering="crispEdges" fill="#a8a8a8"><rect x="901" y="3" width="3" height="1"/><rect x="901" y="5" width="3" height="1"/><rect x="901" y="7" width="3" height="1"/><rect x="901" y="9" width="3" height="1"/><rect x="901" y="11" width="3" height="1"/><rect x="901" y="13" width="3" height="1"/><rect x="901" y="15" width="3" height="1"/><rect x="901" y="17" width="3" height="1"/><rect x="901" y="19" width="3" height="1"/><rect x="901" y="21" width="3" height="1"/></g>
<g shape-rendering="crispEdges"><rect x="1047" y="1" width="25" height="22" fill="#f8f8f8"/><rect x="1047" y="1" width="25" height="1" fill="#8e8e8e"/><rect x="1047" y="1" width="1" height="22" fill="#8e8e8e"/><rect x="1048" y="22" width="24" height="1" fill="#fff"/><rect x="1071" y="2" width="1" height="21" fill="#fff"/></g>
<g font-size="10.4" fill="#3a3a3a">
<text x="912.4" y="17.2" textLength="13.0" lengthAdjust="spacingAndGlyphs">M1</text>
<text x="940.7" y="17.2" textLength="12.5" lengthAdjust="spacingAndGlyphs">M5</text>
<text x="966.5" y="17.2" textLength="17.6" lengthAdjust="spacingAndGlyphs">M15</text>
<text x="994.6" y="17.2" textLength="17.8" lengthAdjust="spacingAndGlyphs">M30</text>
<text x="1025.4" y="17.2" textLength="11.9" lengthAdjust="spacingAndGlyphs">H1</text>
<text x="1052.6" y="17.2" textLength="12.4" lengthAdjust="spacingAndGlyphs">H4</text>
<text x="1081.2" y="17.2" textLength="11.9" lengthAdjust="spacingAndGlyphs">D1</text>
<text x="1109" y="17.2" textLength="14.3" lengthAdjust="spacingAndGlyphs">W1</text>
<text x="1135.7" y="17.2" textLength="14.7" lengthAdjust="spacingAndGlyphs">MN</text>
</g>
<rect x="1158" y="0" width="1" height="24" fill="#a0a0a0" shape-rendering="crispEdges"/><rect x="1159" y="0" width="1" height="24" fill="#ffffff" shape-rendering="crispEdges"/>
<circle cx="1628.6" cy="10.4" r="3.9" fill="#f4f8ff" stroke="#2458c8" stroke-width="1.5"/><path d="M1625.6 13.6L1621.4 18" stroke="#2458c8" stroke-width="2.4" stroke-linecap="round"/>
<path d="M1660.5 5.3C1664.6 5.3 1667.6 7.3 1667.6 10C1667.6 12 1666 13.6 1664 14.3L1664.6 16.8L1662 14.8C1657 15.2 1654 12.8 1654 10C1654 7.3 1656.4 5.3 1660.5 5.3Z" fill="url(#bub)" stroke="#9a9a9a" stroke-width=".8"/>
<path d="M1652.2 10C1655.4 10 1657.4 11.6 1657.4 13.6C1657.4 15.6 1655.2 17 1652.4 17L1649.8 19.6L1650 16.6C1648 16 1647 14.8 1647 13.6C1647 11.6 1649 10 1652.2 10Z" fill="url(#bub)" stroke="#9a9a9a" stroke-width=".8"/>
</svg>
</div>
<div id="panel" style="position:absolute;left:0;top:44px;width:222px;height:70px;background:#fff"></div>
<div class="tp" style="left:1px;top:49px;width:52px;height:24px;background:linear-gradient(#f65252,#e23c3c);box-shadow:inset 0 1px 0 #d01818,inset 1px 0 0 #d01818,inset -1px 0 0 #d01818"></div>
<div class="tp" style="left:168px;top:49px;width:52px;height:24px;background:linear-gradient(#f65252,#e23c3c);box-shadow:inset 0 1px 0 #d01818,inset 1px 0 0 #d01818,inset -1px 0 0 #d01818"></div>
<div class="tp" style="left:1px;top:73px;width:109px;height:40px;background:linear-gradient(#e03838,#c41a1a 55%,#ab0202);box-shadow:inset 1px 0 0 rgba(150,0,0,.5),inset -1px 0 0 rgba(150,0,0,.5),inset 0 -1px 0 rgba(140,0,0,.6)"></div>
<div class="tp" style="left:112px;top:73px;width:108px;height:40px;background:linear-gradient(#e03838,#c41a1a 55%,#ab0202);box-shadow:inset 1px 0 0 rgba(150,0,0,.5),inset -1px 0 0 rgba(150,0,0,.5),inset 0 -1px 0 rgba(140,0,0,.6)"></div>
<div class="tp" style="left:5px;top:72.5px;width:44px;height:1px;background:#f08888"></div>
<div class="tp" style="left:172px;top:72.5px;width:44px;height:1px;background:#f08888"></div>
<div class="tp" style="left:1px;top:53.5px;width:52px;text-align:center;font-size:12px;line-height:14px;transform:scaleX(.9)">SELL</div>
<div class="tp" style="left:168px;top:53.5px;width:52px;text-align:center;font-size:12px;line-height:14px;transform:scaleX(.9);margin-left:-1px">BUY</div>
<div class="tp" style="left:55px;top:49px;width:110px;height:20px;background:#fff;border:1px solid #a9b0b8;box-sizing:content-box"></div>
<div class="tp" style="left:56px;top:50px;width:20px;height:20px;background:linear-gradient(#f2f2f2,#e4e4e4);border-right:1px solid #a9b0b8"></div>
<div class="tp" style="left:144px;top:50px;width:21px;height:20px;background:linear-gradient(#f2f2f2,#e4e4e4);border-left:1px solid #a9b0b8"></div>
<svg style="position:absolute;left:0;top:44px" width="222" height="70"><path d="M62.5 14.5h6l-3 3.5z" fill="#000"/><path d="M151.5 18h6l-3 -3.5z" fill="#000"/></svg>
<div class="tp" style="left:78px;top:53px;width:63px;text-align:right;font-size:12px;line-height:14px;color:#000">1.00</div>
<div class="tp" style="left:20.8px;top:92.3px;font-size:12px;font-weight:bold;line-height:14px;transform-origin:0 0;transform:scaleX(1.04)">0.68</div>
<div class="tp" style="left:131.2px;top:92.3px;font-size:12px;font-weight:bold;line-height:14px;transform-origin:0 0;transform:scaleX(1.04)">0.68</div>
<div class="tp" style="left:49px;top:73.1px;font-size:35px;line-height:38px;transform-origin:0 0;transform:scaleX(.87)">59</div>
<div class="tp" style="left:158.6px;top:73.1px;font-size:35px;line-height:38px;transform-origin:0 0;transform:scaleX(.87)">61</div>
<div class="tp" style="left:88px;top:77.5px;font-size:11.5px;font-weight:bold;line-height:12px">1</div>
<div class="tp" style="left:199.5px;top:77.5px;font-size:11.5px;font-weight:bold;line-height:12px">5</div>

</body></html>
